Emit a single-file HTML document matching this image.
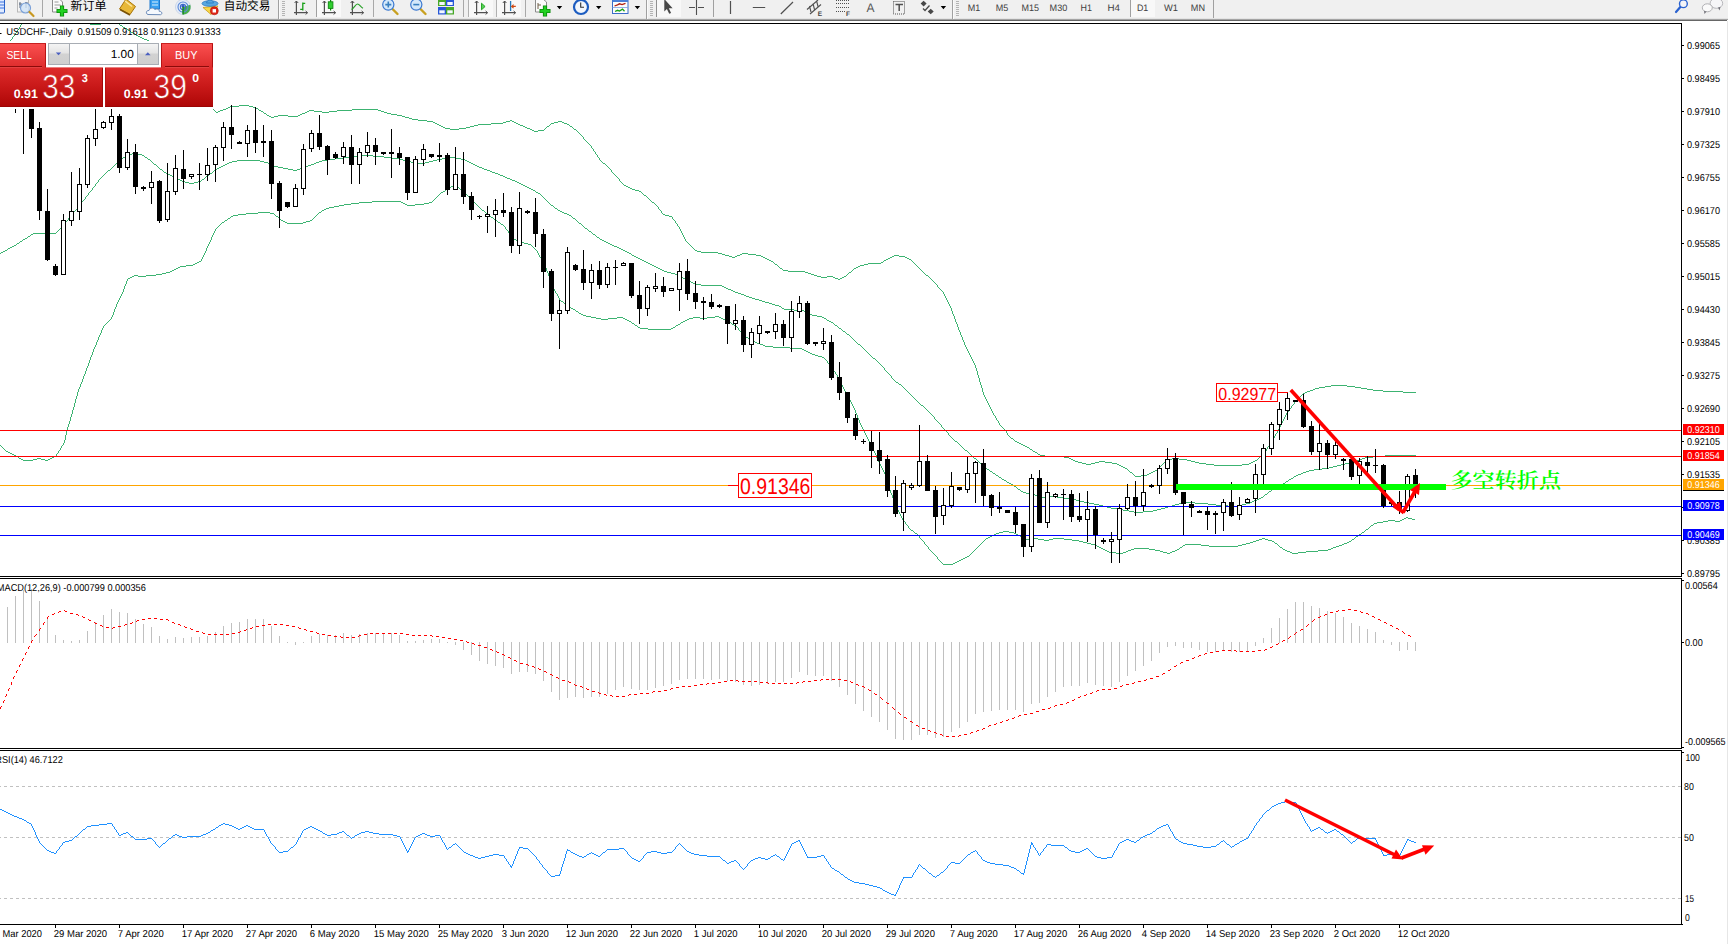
<!DOCTYPE html><html><head><meta charset="utf-8"><title>USDCHF Daily</title>
<style>html,body{margin:0;padding:0;background:#fff;overflow:hidden}svg{display:block}</style></head><body>
<svg width="1728" height="944" viewBox="0 0 1728 944" font-family="'Liberation Sans', sans-serif" text-rendering="geometricPrecision">
<defs>
<clipPath id="cm"><rect x="0" y="24" width="1681" height="552"/></clipPath>
<clipPath id="cd"><rect x="0" y="579" width="1681" height="169"/></clipPath>
<clipPath id="cr"><rect x="0" y="751" width="1681" height="173"/></clipPath>
<clipPath id="cl"><rect x="0" y="924" width="1728" height="20"/></clipPath>
<linearGradient id="gtab" x1="0" y1="0" x2="0" y2="1"><stop offset="0" stop-color="#fb5050"/><stop offset="1" stop-color="#dd2c2c"/></linearGradient>
<linearGradient id="gbox" x1="0" y1="0" x2="0" y2="1"><stop offset="0" stop-color="#de2c2c"/><stop offset="0.5" stop-color="#c81818"/><stop offset="1" stop-color="#ad0606"/></linearGradient>
<linearGradient id="gbtn" x1="0" y1="0" x2="0" y2="1"><stop offset="0" stop-color="#f4f4f4"/><stop offset="0.45" stop-color="#e4e4e4"/><stop offset="0.5" stop-color="#d2d2d2"/><stop offset="1" stop-color="#cfcfcf"/></linearGradient>
<linearGradient id="gboxu" gradientUnits="userSpaceOnUse" x1="0" y1="67.4" x2="0" y2="106.7"><stop offset="0" stop-color="#de2c2c"/><stop offset="0.5" stop-color="#c81818"/><stop offset="1" stop-color="#ad0606"/></linearGradient>
</defs>
<rect x="0" y="0" width="1728" height="944" fill="#fff" />
<g id="toolbar">
<rect x="0" y="0" width="1728" height="19" fill="#f0f0f0"/>
<rect x="0" y="18" width="1728" height="1" fill="#e4e4e4"/><rect x="0" y="19" width="1728" height="1" fill="#a4a4a4"/><rect x="0" y="20" width="1727" height="1" fill="#666666"/>
<g shape-rendering="crispEdges">
<!-- pressed buttons dotted backgrounds -->
<rect x="317" y="0" width="24" height="17" fill="#f9f9f9"/>
<rect x="316" y="0" width="1" height="17" fill="#a0a0a0"/>
<rect x="468" y="0" width="25" height="17" fill="#f8f8f8"/><rect x="468" y="0" width="1" height="17" fill="#b0b0b0"/>
<rect x="496" y="0" width="25" height="17" fill="#f8f8f8"/><rect x="496" y="0" width="1" height="17" fill="#b0b0b0"/>
<rect x="656" y="0" width="25" height="17" fill="#f8f8f8"/><rect x="656" y="0" width="1" height="17" fill="#909090"/>
<rect x="1130" y="0" width="25" height="17" fill="#f8f8f8"/><rect x="1130" y="0" width="1" height="17" fill="#a0a0a0"/>
<!-- separators -->
<rect x="42" y="0" width="1" height="17" fill="#a8a8a8"/>
<rect x="278" y="0" width="1" height="19" fill="#a0a0a0"/><rect x="279" y="0" width="1" height="19" fill="#fafafa"/>
<rect x="373" y="0" width="1" height="17" fill="#a8a8a8"/>
<rect x="463" y="0" width="1" height="17" fill="#a8a8a8"/>
<rect x="525" y="0" width="1" height="17" fill="#a8a8a8"/>
<rect x="646" y="0" width="1" height="19" fill="#a0a0a0"/><rect x="647" y="0" width="1" height="19" fill="#fafafa"/>
<rect x="713" y="0" width="1" height="17" fill="#a0a0a0"/>
<rect x="952" y="0" width="1" height="19" fill="#a0a0a0"/><rect x="953" y="0" width="1" height="19" fill="#fafafa"/>
<rect x="1213" y="0" width="1" height="18" fill="#a0a0a0"/>
<!-- grips -->
<g fill="#b4b4b4">
<rect x="282" y="1" width="3" height="1"/><rect x="282" y="3" width="3" height="1"/><rect x="282" y="5" width="3" height="1"/><rect x="282" y="7" width="3" height="1"/><rect x="282" y="9" width="3" height="1"/><rect x="282" y="11" width="3" height="1"/><rect x="282" y="13" width="3" height="1"/><rect x="282" y="15" width="3" height="1"/>
<rect x="650" y="1" width="3" height="1"/><rect x="650" y="3" width="3" height="1"/><rect x="650" y="5" width="3" height="1"/><rect x="650" y="7" width="3" height="1"/><rect x="650" y="9" width="3" height="1"/><rect x="650" y="11" width="3" height="1"/><rect x="650" y="13" width="3" height="1"/><rect x="650" y="15" width="3" height="1"/>
<rect x="956" y="1" width="3" height="1"/><rect x="956" y="3" width="3" height="1"/><rect x="956" y="5" width="3" height="1"/><rect x="956" y="7" width="3" height="1"/><rect x="956" y="9" width="3" height="1"/><rect x="956" y="11" width="3" height="1"/><rect x="956" y="13" width="3" height="1"/><rect x="956" y="15" width="3" height="1"/>
</g>
</g>
<!-- icon 1: blue doc (clipped) -->
<rect x="-2" y="-2" width="6.5" height="15" rx="1" fill="#dfeaff" stroke="#2a62c8" stroke-width="1"/>
<path d="M0 2h4M0 5h4M0 8h4" stroke="#3a72e0" stroke-width="1"/>
<!-- icon 2: doc + magnifier -->
<rect x="17.5" y="-2" width="11" height="14" fill="#f4f4f4" stroke="#b8b8b8" stroke-width="1"/>
<path d="M20 2v6M26 2v6M19 4h3M25 3h3" stroke="#5a6a80" stroke-width="1"/>
<circle cx="25.5" cy="8" r="5" fill="#cfe4f8" fill-opacity="0.8" stroke="#7aa0d8" stroke-width="1.2"/>
<path d="M29.5 12l4 4" stroke="#c89820" stroke-width="2.2" stroke-linecap="round"/>
<!-- icon: new order doc + plus -->
<path d="M52.5 -1h7l3 3v10h-10z" fill="#fbfbfb" stroke="#8a8a8a" stroke-width="1"/>
<path d="M54.5 2h4M54.5 5h6M54.5 8h3" stroke="#9a9a9a" stroke-width="1"/>
<path d="M62 5.5v11M56.5 11h11" stroke="#0a8c0a" stroke-width="4.2"/>
<path d="M62 6.3v9.4M57.3 11h9.4" stroke="#22d022" stroke-width="2.4"/>
<text x="70.6" y="10.2" font-size="12" fill="#000" textLength="36" lengthAdjust="spacingAndGlyphs" font-family="'Liberation Sans','Noto Sans CJK SC',sans-serif">新订单</text>
<!-- gold tag -->
<path d="M126 -1l9.5 7.5l-5.5 8l-10.5-5.5z" fill="#e8b838" stroke="#a87408" stroke-width="1"/>
<path d="M120 9.5l10 5.5" stroke="#7a5206" stroke-width="1.5"/>
<path d="M125 1l7 5.5" stroke="#fbe6a0" stroke-width="1.5"/>
<!-- cloud/server -->
<rect x="150" y="-2" width="9.5" height="11" fill="#3aa0f0" stroke="#1c78d0" stroke-width="1"/>
<path d="M152 2h6M152 5h6" stroke="#d8efff" stroke-width="1"/>
<path d="M148 14.5c-2.5-0.5-2-4.5 1-4c0.5-2.5 4.5-3.5 6-0.8c1.5-1.5 4.5-0.5 4.2 1.6c3 -0.2 3.5 3 1.3 3.4z" fill="#f4f8fd" stroke="#6a8ab8" stroke-width="1"/>
<!-- signal -->
<circle cx="183" cy="7" r="7.6" fill="#e4ecf8" stroke="#c4d0e4" stroke-width="0.8"/>
<path d="M183 7v7.6a7.6 7.6 0 0 0 7.3-9.8z" fill="#48b048"/>
<circle cx="183" cy="7" r="5" fill="none" stroke="#5a88d8" stroke-width="1.1"/>
<circle cx="183" cy="7" r="2.6" fill="none" stroke="#3a68c8" stroke-width="1.1"/>
<circle cx="183" cy="6.2" r="1.3" fill="#2a50c0"/>
<path d="M183 7v7.5" stroke="#108810" stroke-width="1.4"/>
<!-- expert advisor -->
<path d="M203 7.5l8 7l7-8.5z" fill="#f8d848" stroke="#c89a18" stroke-width="0.8"/>
<ellipse cx="210" cy="3.5" rx="8" ry="2.8" fill="#58a8e0" stroke="#2a78c0" stroke-width="0.8"/>
<path d="M206.5 3c0.5-4 6.5-4 7 0z" fill="#58a8e0" stroke="#2a78c0" stroke-width="0.8"/>
<circle cx="214.3" cy="10.8" r="4" fill="#e02818" stroke="#b01008" stroke-width="0.6"/>
<rect x="212.6" y="9.1" width="3.4" height="3.4" fill="#fff"/>
<text x="223.8" y="10.2" font-size="12" fill="#000" textLength="46.5" lengthAdjust="spacingAndGlyphs" font-family="'Liberation Sans','Noto Sans CJK SC',sans-serif">自动交易</text>
<!-- chart type icons -->
<g stroke="#505050" stroke-width="1.2" fill="none">
<path d="M296.4 1v14M294 12.7h13.5"/><path d="M294.6 3l1.8-2l1.8 2M305.6 10.9l2 1.8l-2 1.8" stroke-width="1"/>
<path d="M324.4 1v14M322 12.7h13.5"/><path d="M322.6 3l1.8-2l1.8 2M333.6 10.9l2 1.8l-2 1.8" stroke-width="1"/>
<path d="M352.4 1v14M350 12.7h13.5"/><path d="M350.6 3l1.8-2l1.8 2M361.6 10.9l2 1.8l-2 1.8" stroke-width="1"/>
</g>
<path d="M302.8 2.5v8M302.8 3.3h2.4M300.2 9.3h2.6" stroke="#18a018" stroke-width="1.3" fill="none"/>
<path d="M330.6 0v10.5" stroke="#108810" stroke-width="1.2"/>
<rect x="328.3" y="1.8" width="4.6" height="6.6" fill="#30d030" stroke="#108810" stroke-width="0.9"/>
<path d="M351.5 9.5c3-2 4-5.5 6-5.5s3 3 5.5 4.200" stroke="#28a028" stroke-width="1.2" fill="none"/>
<!-- zoom in/out -->
<path d="M392.5 9l5 5" stroke="#c8a020" stroke-width="2.4" stroke-linecap="round"/>
<circle cx="388.3" cy="4.6" r="5.6" fill="#d4e8fa" stroke="#3a78d0" stroke-width="1.2"/>
<path d="M385.3 4.6h6M388.3 1.6v6" stroke="#3a80c0" stroke-width="1.6"/>
<path d="M420.5 9l5 5" stroke="#c8a020" stroke-width="2.4" stroke-linecap="round"/>
<circle cx="416.3" cy="4.6" r="5.6" fill="#d4e8fa" stroke="#3a78d0" stroke-width="1.2"/>
<path d="M413.3 4.6h6" stroke="#3a80c0" stroke-width="1.6"/>
<!-- tile icon -->
<rect x="438" y="-1" width="8" height="7" fill="#48a828"/><rect x="446" y="-1" width="8" height="7" fill="#2858d8"/>
<rect x="438" y="7" width="8" height="7.5" fill="#2858d8"/><rect x="446" y="7" width="8" height="7.5" fill="#48a828"/>
<rect x="439.3" y="2" width="5.4" height="3" fill="#f4f8ff"/><rect x="447.3" y="2" width="5.4" height="3" fill="#f4f8ff"/>
<rect x="439.3" y="10.3" width="5.4" height="3" fill="#f4f8ff"/><rect x="447.3" y="10.3" width="5.4" height="3" fill="#f4f8ff"/>
<!-- autoscroll / shift -->
<g stroke="#505050" stroke-width="1.2" fill="none">
<path d="M476.6 1v14M474 12.7h13.5"/><path d="M474.8 3l1.8-2l1.8 2M485.6 10.9l2 1.8l-2 1.8" stroke-width="1"/>
<path d="M504.6 1v14M502 12.7h13.5"/><path d="M502.8 3l1.8-2l1.8 2M513.6 10.9l2 1.8l-2 1.8" stroke-width="1"/>
</g>
<path d="M481.5 3.2v6.6l3.6-3.3z" fill="#58d058" stroke="#18a018" stroke-width="0.9"/>
<path d="M510.6 1v10" stroke="#2878b8" stroke-width="1.3"/>
<path d="M515.8 6.4h-4M513.6 4.6l-2 1.8l2 1.8" stroke="#d04810" stroke-width="1.1" fill="none"/>
<!-- doc + plus 2 -->
<path d="M535.5 -1h7.5l3.5 3v10h-11z" fill="#fbfbfb" stroke="#8a8a8a" stroke-width="1"/>
<path d="M538 3v6M538 5h3" stroke="#706048" stroke-width="1"/>
<path d="M545 5.5v11M539.5 11h11" stroke="#0a8c0a" stroke-width="4.2"/>
<path d="M545 6.3v9.4M540.3 11h9.4" stroke="#22d022" stroke-width="2.4"/>
<path d="M556.8 6h5.4l-2.7 3.2zM596 6h5.4l-2.7 3.200zM634.700 6h5.4l-2.700 3.200zM940.700 6h5.400l-2.700 3.200z" fill="#000"/>
<!-- clock -->
<circle cx="581" cy="7" r="7" fill="#f2f6fb" stroke="#1c5cc0" stroke-width="2.200"/>
<path d="M580.700 2.500v4.800h3.300" stroke="#303030" stroke-width="1.100" fill="none"/>
<!-- templates -->
<rect x="612.500" y="-1" width="15.500" height="14.500" fill="#fdfdfd" stroke="#3a6cc8" stroke-width="1"/>
<rect x="612.500" y="-1" width="15.500" height="3" fill="#4a80d8"/>
<path d="M612.500 7.500h15.500" stroke="#7aa0e0" stroke-width="0.800"/>
<path d="M614.500 6l3-1.200l2-1l2.500 0.800l3.500-1.200" stroke="#b02010" stroke-width="1.300" fill="none"/>
<path d="M615 11.500l2.500-1.200l2 0.800l3-2l2 2.200" stroke="#18a018" stroke-width="1.300" fill="none"/>
<!-- cursor -->
<path d="M664.300 -1v12.500l2.600-2.400l2.300 4.700l1.900-0.900l-2.300-4.600h3.800z" fill="#484848"/>
<!-- crosshair -->
<path d="M696.500 0v15M689 7.500h6M698 7.500h6" stroke="#505050" stroke-width="1.100"/>
<!-- line tools -->
<path d="M730.500 1v13M752.800 7.500h12.400M780.800 14l12.200-12" stroke="#505050" stroke-width="1.200"/>
<!-- channel -->
<path d="M807 9.500l11-9.500M810 14l11-9.500M809.500 6l1.500 6M813 3.500l1.500 6M816.500 0.500l1.500 6" stroke="#505050" stroke-width="1.100" fill="none"/>
<text x="817.800" y="15.800" font-size="6.500" font-weight="bold" fill="#404040">E</text>
<!-- fibo -->
<path d="M836 0.500h13M836 3.500h13M836 7.500h13M836 11.500h9" stroke="#505050" stroke-width="1" stroke-dasharray="1 1"/>
<text x="846" y="15.800" font-size="6.500" font-weight="bold" fill="#404040">F</text>
<text x="866.500" y="12" font-size="12.500" fill="#585858" textLength="8" lengthAdjust="spacingAndGlyphs">A</text>
<rect x="893.500" y="1.500" width="11" height="12.500" fill="none" stroke="#505050" stroke-width="1" stroke-dasharray="1 1"/>
<path d="M895.500 4.500h7.500M899.200 4.500v6.500" stroke="#505050" stroke-width="1.500"/>
<!-- arrows icon -->
<path d="M923.600 0.800l3 2.800l-3 2.800l-3-2.800zM930.700 8.700l3 2.800l-3 2.800l-3-2.800z" fill="#484848"/>
<path d="M923 8.500l2 2l4.500-5" stroke="#484848" stroke-width="1.300" fill="none"/>
<!-- timeframes -->
<g font-size="9.400" fill="#404040">
<text x="967.700" y="10.800" textLength="12.500" lengthAdjust="spacingAndGlyphs">M1</text>
<text x="995.700" y="10.800" textLength="12.500" lengthAdjust="spacingAndGlyphs">M5</text>
<text x="1021.500" y="10.800" textLength="17.500" lengthAdjust="spacingAndGlyphs">M15</text>
<text x="1049.600" y="10.800" textLength="17.700" lengthAdjust="spacingAndGlyphs">M30</text>
<text x="1080.600" y="10.800" textLength="11.400" lengthAdjust="spacingAndGlyphs">H1</text>
<text x="1107.500" y="10.800" textLength="12.500" lengthAdjust="spacingAndGlyphs">H4</text>
<text x="1136.900" y="10.800" textLength="11.400" lengthAdjust="spacingAndGlyphs">D1</text>
<text x="1164" y="10.800" textLength="14" lengthAdjust="spacingAndGlyphs">W1</text>
<text x="1190.800" y="10.800" textLength="14.200" lengthAdjust="spacingAndGlyphs">MN</text>
</g>
<!-- search + chat -->
<path d="M1680.300 7l-4.300 5" stroke="#2a62d0" stroke-width="2.200" stroke-linecap="round"/>
<circle cx="1683.400" cy="3.700" r="3.900" fill="#f4f4f8" stroke="#2a62d0" stroke-width="1.400"/>
<ellipse cx="1716.400" cy="3.300" rx="6.300" ry="5" fill="#f6f6f8" stroke="#b0b0b4" stroke-width="0.900"/>
<path d="M1718 7.500l1.500 3l1-3.500z" fill="#707078"/>
<ellipse cx="1707.300" cy="7.800" rx="5" ry="4" fill="#fafafa" stroke="#a8a8ac" stroke-width="0.900"/>
<path d="M1704 11l0.500 3l2-2.500z" fill="#707078"/>
<path d="M1228 19v0" />
</g>

<g shape-rendering="crispEdges">
<rect x="0" y="23" width="1682" height="1" fill="#000" />
<rect x="1681" y="23" width="1" height="554" fill="#000" />
<rect x="0" y="576" width="1682" height="1" fill="#000" />
<rect x="0" y="578" width="1682" height="1" fill="#000" />
<rect x="1681" y="578" width="1" height="171" fill="#000" />
<rect x="0" y="748" width="1682" height="1" fill="#000" />
<rect x="0" y="750" width="1682" height="1" fill="#000" />
<rect x="1681" y="750" width="1" height="175" fill="#000" />
<rect x="0" y="924" width="1683" height="1" fill="#000" />
<rect x="1727" y="21" width="1" height="923" fill="#e6e6e6" />
</g>
<g clip-path="url(#cm)">
<path d="M21 24.5h1M20 25.5h1M20 26.5h1M19 27.5h1M19 28.5h1M18 29.5h1M17 30.5h1M17 31.5h1M16 32.5h1M15 33.5h1M15 34.5h1M14 35.5h1M13 36.5h1M12 37.5h1M12 38.5h1M11 39.5h1M10 40.5h1M10 41.5h1M9 42.5h1M9 43.5h1M8 44.5h1M8 45.5h1M7 46.5h1M7 47.5h1M6 48.5h1M6 49.5h1M5 50.5h1" stroke="#3cb371" stroke-width="1" fill="none" shape-rendering="crispEdges"/>
<path d="M90 24.5h11" stroke="#3cb371" stroke-width="1" fill="none" shape-rendering="crispEdges"/>
<path d="M119 24.5h1M120 25.5h2M122 26.5h1M123 27.5h2M125 28.5h2M127 29.5h1M128 30.5h2M130 31.5h1M131 32.5h2M133 33.5h2M135 34.5h1M136 35.5h2M138 36.5h2M140 37.5h2M142 38.5h2M144 39.5h3M147 40.5h2M149 41.5h1M150 42.5h1M151 43.5h1M152 44.5h1M153 45.5h1M154 46.5h1M155 47.5h1M156 48.5h1M157 49.5h1M158 50.5h1M159 51.5h1M160 52.5h1M161 53.5h1M162 54.5h1M163 55.5h1M163 56.5h1M164 57.5h1M165 58.5h1M166 59.5h1M167 60.5h1M168 61.5h1M169 62.5h1M170 63.5h1M170 64.5h1M171 65.5h1M172 66.5h1M173 67.5h1M174 68.5h1M175 69.5h1M176 70.5h1M177 71.5h1M177 72.5h1M178 73.5h1M179 74.5h1M180 75.5h1M181 76.5h1M182 77.5h1M183 78.5h1M184 79.5h1M185 80.5h1M185 81.5h1M186 82.5h1M187 83.5h1M188 84.5h1M189 85.5h1M190 86.5h1M191 87.5h1M192 88.5h1M193 89.5h1M194 90.5h1M195 91.5h1M195 92.5h1M196 93.5h1M197 94.5h1M198 95.5h1M199 96.5h1M200 97.5h1M201 98.5h1M202 99.5h1M203 100.5h1M204 101.5h1M205 102.5h1M206 103.5h2M208 104.5h1M209 105.5h1M239 105.5h10M210 106.5h1M230 106.5h9M249 106.5h4M211 107.5h1M228 107.5h2M253 107.5h3M212 108.5h1M226 108.5h2M256 108.5h2M213 109.5h1M223 109.5h3M258 109.5h1M352 109.5h26M214 110.5h1M220 110.5h3M259 110.5h2M309 110.5h5M337 110.5h15M378 110.5h3M215 111.5h1M218 111.5h2M261 111.5h2M307 111.5h2M314 111.5h8M329 111.5h8M381 111.5h3M216 112.5h2M263 112.5h1M305 112.5h2M322 112.5h7M384 112.5h3M264 113.5h2M302 113.5h3M387 113.5h4M266 114.5h1M300 114.5h2M391 114.5h6M267 115.5h2M278 115.5h10M298 115.5h2M397 115.5h5M269 116.5h2M274 116.5h4M288 116.5h10M402 116.5h3M271 117.5h3M405 117.5h4M409 118.5h3M412 119.5h6M418 120.5h9M510 120.5h2M427 121.5h6M506 121.5h4M512 121.5h2M558 121.5h4M433 122.5h2M503 122.5h3M514 122.5h2M554 122.5h4M562 122.5h2M435 123.5h2M491 123.5h12M516 123.5h2M551 123.5h3M564 123.5h3M437 124.5h2M478 124.5h13M518 124.5h2M550 124.5h1M567 124.5h2M439 125.5h2M474 125.5h4M520 125.5h3M549 125.5h1M569 125.5h1M441 126.5h2M470 126.5h4M523 126.5h2M547 126.5h2M570 126.5h2M443 127.5h2M466 127.5h4M525 127.5h2M546 127.5h1M572 127.5h1M445 128.5h5M459 128.5h7M527 128.5h3M545 128.5h1M573 128.5h1M450 129.5h9M530 129.5h2M544 129.5h1M574 129.5h2M532 130.5h2M538 130.5h6M576 130.5h1M534 131.5h4M577 131.5h1M578 132.5h1M579 133.5h1M580 134.5h1M581 135.5h1M582 136.5h1M583 137.5h1M583 138.5h1M584 139.5h1M585 140.5h1M586 141.5h1M587 142.5h1M588 143.5h1M589 144.5h1M590 145.5h1M591 146.5h1M591 147.5h1M592 148.5h1M593 149.5h1M593 150.5h1M594 151.5h1M595 152.5h1M595 153.5h1M596 154.5h1M597 155.5h1M597 156.5h1M598 157.5h1M599 158.5h1M599 159.5h1M600 160.5h1M601 161.5h1M602 162.5h1M603 163.5h2M605 164.5h1M606 165.5h1M607 166.5h1M608 167.5h1M609 168.5h1M610 169.5h1M611 170.5h1M611 171.5h1M612 172.5h1M613 173.5h1M614 174.5h1M615 175.5h1M616 176.5h1M617 177.5h1M618 178.5h1M619 179.5h1M619 180.5h1M620 181.5h1M621 182.5h1M622 183.5h1M623 184.5h1M624 185.5h2M626 186.5h2M628 187.5h2M630 188.5h2M632 189.5h3M635 190.5h4M639 191.5h2M641 192.5h1M642 193.5h1M643 194.5h1M644 195.5h2M646 196.5h1M647 197.5h1M648 198.5h1M649 199.5h1M650 200.5h1M651 201.5h1M652 202.5h2M654 203.5h1M655 204.5h1M656 205.5h1M657 206.5h1M658 207.5h1M658 208.5h1M659 209.5h1M660 210.5h1M661 211.5h1M661 212.5h1M662 213.5h1M663 214.5h2M665 215.5h4M669 216.5h3M672 217.5h1M672 218.5h1M673 219.5h1M674 220.5h1M675 221.5h1M675 222.5h1M676 223.5h1M677 224.5h1M677 225.5h1M678 226.5h1M679 227.5h1M679 228.5h1M680 229.5h1M680 230.5h1M681 231.5h1M681 232.5h1M682 233.5h1M682 234.5h1M683 235.5h1M683 236.5h1M684 237.5h1M684 238.5h1M685 239.5h1M685 240.5h1M686 241.5h1M687 242.5h1M688 243.5h1M689 244.5h1M690 245.5h1M691 246.5h1M692 247.5h1M693 248.5h1M694 249.5h1M695 250.5h2M697 251.5h4M701 252.5h17M718 253.5h4M742 253.5h6M722 254.5h3M740 254.5h2M748 254.5h8M725 255.5h4M737 255.5h3M756 255.5h5M894 255.5h5M729 256.5h3M735 256.5h2M761 256.5h2M892 256.5h2M899 256.5h6M732 257.5h3M763 257.5h2M890 257.5h2M905 257.5h2M765 258.5h2M888 258.5h2M907 258.5h2M767 259.5h2M886 259.5h2M909 259.5h2M769 260.5h2M884 260.5h2M911 260.5h1M771 261.5h2M883 261.5h1M912 261.5h1M773 262.5h1M881 262.5h2M913 262.5h1M774 263.5h1M868 263.5h13M914 263.5h1M775 264.5h2M864 264.5h4M915 264.5h1M777 265.5h1M860 265.5h4M916 265.5h1M778 266.5h1M858 266.5h2M917 266.5h1M779 267.5h1M856 267.5h2M918 267.5h1M780 268.5h2M854 268.5h2M919 268.5h1M782 269.5h1M853 269.5h1M920 269.5h1M783 270.5h5M852 270.5h1M921 270.5h1M788 271.5h17M851 271.5h1M922 271.5h1M805 272.5h3M849 272.5h2M923 272.5h1M808 273.5h3M848 273.5h1M924 273.5h1M811 274.5h3M847 274.5h1M925 274.5h1M814 275.5h3M846 275.5h1M926 275.5h2M817 276.5h4M827 276.5h6M844 276.5h2M928 276.5h1M821 277.5h6M833 277.5h2M842 277.5h2M929 277.5h1M835 278.5h3M840 278.5h2M930 278.5h1M838 279.5h2M931 279.5h1M932 280.5h1M933 281.5h1M934 282.5h1M935 283.5h1M936 284.5h1M937 285.5h1M937 286.5h1M938 287.5h1M939 288.5h1M940 289.5h1M941 290.5h1M942 291.5h1M943 292.5h1M943 293.5h1M944 294.5h1M944 295.5h1M945 296.5h1M945 297.5h1M946 298.5h1M946 299.5h1M947 300.5h1M947 301.5h1M948 302.5h1M948 303.5h1M949 304.5h1M949 305.5h1M950 306.5h1M950 307.5h1M951 308.5h1M951 309.5h1M951 310.5h1M952 311.5h1M952 312.5h1M952 313.5h1M953 314.5h1M953 315.5h1M954 316.5h1M954 317.5h1M954 318.5h1M955 319.5h1M955 320.5h1M955 321.5h1M956 322.5h1M956 323.5h1M957 324.5h1M957 325.5h1M957 326.5h1M958 327.5h1M958 328.5h1M958 329.5h1M959 330.5h1M959 331.5h1M960 332.5h1M960 333.5h1M960 334.5h1M961 335.5h1M961 336.5h1M962 337.5h1M962 338.5h1M962 339.5h1M963 340.5h1M963 341.5h1M964 342.5h1M964 343.5h1M964 344.5h1M965 345.5h1M965 346.5h1M966 347.5h1M966 348.5h1M967 349.5h1M967 350.5h1M968 351.5h1M968 352.5h1M969 353.5h1M969 354.5h1M970 355.5h1M970 356.5h1M971 357.5h1M971 358.5h1M972 359.5h1M972 360.5h1M973 361.5h1M973 362.5h1M974 363.5h1M974 364.5h1M975 365.5h1M975 366.5h1M975 367.5h1M976 368.5h1M976 369.5h1M976 370.5h1M977 371.5h1M977 372.5h1M977 373.5h1M977 374.5h1M978 375.5h1M978 376.5h1M978 377.5h1M979 378.5h1M979 379.5h1M979 380.5h1M979 381.5h1M980 382.5h1M980 383.5h1M980 384.5h1M981 385.5h1M1331 385.5h16M981 386.5h1M1325 386.5h6M1347 386.5h8M981 387.5h1M1319 387.5h6M1355 387.5h6M982 388.5h1M1315 388.5h4M1361 388.5h6M982 389.5h1M1313 389.5h2M1367 389.5h6M982 390.5h1M1310 390.5h3M1373 390.5h10M982 391.5h1M1307 391.5h3M1383 391.5h20M983 392.5h1M1305 392.5h2M1403 392.5h13M983 393.5h1M1303 393.5h2M983 394.5h1M1302 394.5h1M984 395.5h1M1301 395.5h1M984 396.5h1M1300 396.5h1M985 397.5h1M1299 397.5h1M985 398.5h1M1298 398.5h1M986 399.5h1M1297 399.5h1M986 400.5h1M1296 400.5h1M987 401.5h1M1295 401.5h1M987 402.5h1M1294 402.5h1M988 403.5h1M1294 403.5h1M988 404.5h1M1293 404.5h1M989 405.5h1M1292 405.5h1M989 406.5h1M1291 406.5h1M990 407.5h1M1291 407.5h1M990 408.5h1M1290 408.5h1M991 409.5h1M1289 409.5h1M991 410.5h1M1288 410.5h1M992 411.5h1M1288 411.5h1M992 412.5h1M1287 412.5h1M993 413.5h1M1286 413.5h1M993 414.5h1M1286 414.5h1M994 415.5h1M1285 415.5h1M995 416.5h1M1285 416.5h1M995 417.5h1M1284 417.5h1M996 418.5h1M1284 418.5h1M996 419.5h1M1283 419.5h1M997 420.5h1M1283 420.5h1M998 421.5h1M1282 421.5h1M998 422.5h1M1282 422.5h1M999 423.5h1M1281 423.5h1M999 424.5h1M1281 424.5h1M1000 425.5h1M1280 425.5h1M1001 426.5h1M1280 426.5h1M1002 427.5h1M1279 427.5h1M1003 428.5h1M1279 428.5h1M1004 429.5h1M1278 429.5h1M1005 430.5h1M1278 430.5h1M1006 431.5h1M1277 431.5h1M1006 432.5h1M1277 432.5h1M1007 433.5h1M1276 433.5h1M1007 434.5h1M1275 434.5h1M1008 435.5h1M1275 435.5h1M1009 436.5h1M1274 436.5h1M1010 437.5h1M1274 437.5h1M1011 438.5h2M1273 438.5h1M1013 439.5h1M1272 439.5h1M1014 440.5h1M1272 440.5h1M1015 441.5h2M1271 441.5h1M1017 442.5h2M1271 442.5h1M1019 443.5h2M1270 443.5h1M1021 444.5h2M1269 444.5h1M1023 445.5h2M1269 445.5h1M1025 446.5h2M1268 446.5h1M1027 447.5h2M1267 447.5h1M1029 448.5h1M1267 448.5h1M1030 449.5h2M1266 449.5h1M1032 450.5h1M1266 450.5h1M1033 451.5h2M1265 451.5h1M1035 452.5h2M1264 452.5h1M1037 453.5h1M1263 453.5h1M1038 454.5h2M1262 454.5h1M1040 455.5h5M1261 455.5h1M1045 456.5h19M1260 456.5h1M1064 457.5h5M1259 457.5h1M1069 458.5h2M1172 458.5h7M1258 458.5h1M1071 459.5h2M1169 459.5h3M1179 459.5h8M1257 459.5h1M1073 460.5h2M1167 460.5h2M1187 460.5h4M1255 460.5h2M1075 461.5h3M1099 461.5h6M1165 461.5h2M1191 461.5h4M1253 461.5h2M1078 462.5h4M1095 462.5h4M1105 462.5h7M1164 462.5h1M1195 462.5h4M1251 462.5h2M1082 463.5h4M1091 463.5h4M1112 463.5h5M1163 463.5h1M1199 463.5h7M1249 463.5h2M1086 464.5h5M1117 464.5h2M1162 464.5h1M1206 464.5h8M1242 464.5h7M1119 465.5h2M1161 465.5h1M1214 465.5h28M1121 466.5h2M1160 466.5h1M1123 467.5h2M1159 467.5h1M1125 468.5h2M1158 468.5h1M1127 469.5h1M1157 469.5h1M1128 470.5h1M1155 470.5h2M1129 471.5h1M1153 471.5h2M1130 472.5h2M1151 472.5h2M1132 473.5h1M1149 473.5h2M1133 474.5h1M1147 474.5h2M1134 475.5h1M1141 475.5h6M1135 476.5h6" stroke="#3cb371" stroke-width="1" fill="none" shape-rendering="crispEdges"/>
<path d="M132 153.5h5M128 154.5h4M137 154.5h5M126 155.5h2M142 155.5h2M361 155.5h12M125 156.5h1M144 156.5h1M351 156.5h10M373 156.5h11M123 157.5h2M145 157.5h2M343 157.5h8M384 157.5h8M450 157.5h6M122 158.5h1M147 158.5h1M335 158.5h8M392 158.5h7M442 158.5h8M456 158.5h5M121 159.5h1M148 159.5h2M327 159.5h8M399 159.5h4M437 159.5h5M461 159.5h4M120 160.5h1M150 160.5h1M237 160.5h23M322 160.5h5M403 160.5h4M433 160.5h4M465 160.5h2M118 161.5h2M151 161.5h1M232 161.5h5M260 161.5h4M319 161.5h3M407 161.5h4M429 161.5h4M467 161.5h2M117 162.5h1M152 162.5h1M229 162.5h3M264 162.5h4M316 162.5h3M411 162.5h7M425 162.5h4M469 162.5h2M116 163.5h1M153 163.5h1M227 163.5h2M268 163.5h2M314 163.5h2M418 163.5h7M471 163.5h2M115 164.5h1M154 164.5h2M225 164.5h2M270 164.5h2M311 164.5h3M473 164.5h2M114 165.5h1M156 165.5h1M223 165.5h2M272 165.5h2M308 165.5h3M475 165.5h2M113 166.5h1M157 166.5h1M221 166.5h2M274 166.5h4M305 166.5h3M477 166.5h2M112 167.5h1M158 167.5h1M219 167.5h2M278 167.5h5M302 167.5h3M479 167.5h3M111 168.5h1M159 168.5h1M217 168.5h2M283 168.5h5M300 168.5h2M482 168.5h2M110 169.5h1M160 169.5h2M216 169.5h1M288 169.5h5M297 169.5h3M484 169.5h3M108 170.5h2M162 170.5h1M214 170.5h2M293 170.5h4M487 170.5h3M107 171.5h1M163 171.5h1M213 171.5h1M490 171.5h2M106 172.5h1M164 172.5h2M212 172.5h1M492 172.5h3M105 173.5h1M166 173.5h2M210 173.5h2M495 173.5h3M104 174.5h1M168 174.5h2M209 174.5h1M498 174.5h2M103 175.5h1M170 175.5h2M208 175.5h1M500 175.5h3M102 176.5h1M172 176.5h2M206 176.5h2M503 176.5h2M101 177.5h1M174 177.5h2M205 177.5h1M505 177.5h2M100 178.5h1M176 178.5h2M204 178.5h1M507 178.5h3M99 179.5h1M178 179.5h2M202 179.5h2M510 179.5h2M98 180.5h1M180 180.5h2M201 180.5h1M512 180.5h3M98 181.5h1M182 181.5h3M198 181.5h3M515 181.5h2M97 182.5h1M185 182.5h4M194 182.5h4M517 182.5h2M96 183.5h1M189 183.5h5M519 183.5h2M95 184.5h1M521 184.5h2M95 185.5h1M523 185.5h2M94 186.5h1M525 186.5h2M93 187.5h1M527 187.5h2M92 188.5h1M529 188.5h2M92 189.5h1M531 189.5h2M91 190.5h1M533 190.5h2M90 191.5h1M535 191.5h1M89 192.5h1M536 192.5h2M88 193.5h1M538 193.5h2M88 194.5h1M540 194.5h1M87 195.5h1M541 195.5h1M86 196.5h1M542 196.5h1M85 197.5h1M543 197.5h1M85 198.5h1M544 198.5h1M84 199.5h1M545 199.5h1M83 200.5h1M546 200.5h1M82 201.5h1M547 201.5h1M81 202.5h1M548 202.5h1M81 203.5h1M549 203.5h1M80 204.5h1M550 204.5h1M79 205.5h1M551 205.5h2M78 206.5h1M553 206.5h1M77 207.5h1M554 207.5h1M77 208.5h1M555 208.5h2M76 209.5h1M557 209.5h1M75 210.5h1M558 210.5h2M74 211.5h1M560 211.5h2M73 212.5h1M562 212.5h2M72 213.5h1M564 213.5h3M72 214.5h1M567 214.5h2M71 215.5h1M569 215.5h2M70 216.5h1M571 216.5h1M69 217.5h1M572 217.5h1M68 218.5h1M573 218.5h2M68 219.5h1M575 219.5h1M67 220.5h1M576 220.5h1M66 221.5h1M577 221.5h1M65 222.5h1M578 222.5h1M64 223.5h1M579 223.5h2M63 224.5h1M581 224.5h1M62 225.5h1M582 225.5h1M61 226.5h1M583 226.5h1M61 227.5h1M584 227.5h1M60 228.5h1M585 228.5h2M59 229.5h1M587 229.5h1M58 230.5h1M588 230.5h1M57 231.5h1M589 231.5h2M56 232.5h1M591 232.5h1M33 233.5h23M592 233.5h1M31 234.5h2M593 234.5h2M30 235.5h1M595 235.5h1M28 236.5h2M596 236.5h1M27 237.5h1M597 237.5h2M25 238.5h2M599 238.5h1M23 239.5h2M600 239.5h2M22 240.5h1M602 240.5h2M20 241.5h2M604 241.5h2M19 242.5h1M606 242.5h2M17 243.5h2M608 243.5h2M16 244.5h1M610 244.5h2M14 245.5h2M612 245.5h2M12 246.5h2M614 246.5h3M10 247.5h2M617 247.5h2M8 248.5h2M619 248.5h2M7 249.5h1M621 249.5h2M5 250.5h2M623 250.5h2M3 251.5h2M625 251.5h2M1 252.5h2M627 252.5h2M0 253.5h1M629 253.5h2M631 254.5h1M632 255.5h2M634 256.5h2M636 257.5h2M638 258.5h2M640 259.5h2M642 260.5h2M644 261.5h2M646 262.5h2M648 263.5h2M650 264.5h2M652 265.5h2M654 266.5h2M656 267.5h2M658 268.5h2M660 269.5h2M662 270.5h2M664 271.5h3M667 272.5h4M671 273.5h4M675 274.5h2M677 275.5h2M679 276.5h2M681 277.5h2M683 278.5h2M685 279.5h2M687 280.5h2M689 281.5h2M691 282.5h2M693 283.5h2M695 284.5h6M701 285.5h21M722 286.5h2M724 287.5h2M726 288.5h2M728 289.5h3M731 290.5h2M733 291.5h2M735 292.5h3M738 293.5h3M741 294.5h3M744 295.5h2M746 296.5h3M749 297.5h3M752 298.5h3M755 299.5h4M759 300.5h3M762 301.5h3M765 302.5h4M769 303.5h3M772 304.5h3M775 305.5h4M779 306.5h2M781 307.5h1M782 308.5h2M784 309.5h10M794 310.5h10M804 311.5h2M806 312.5h2M808 313.5h2M810 314.5h2M812 315.5h5M817 316.5h5M822 317.5h2M824 318.5h2M826 319.5h1M827 320.5h2M829 321.5h2M831 322.5h2M833 323.5h1M834 324.5h1M835 325.5h2M837 326.5h1M838 327.5h1M839 328.5h2M841 329.5h1M842 330.5h1M843 331.5h2M845 332.5h1M846 333.5h1M847 334.5h2M849 335.5h1M850 336.5h1M851 337.5h1M852 338.5h1M853 339.5h1M854 340.5h1M855 341.5h1M856 342.5h1M857 343.5h1M858 344.5h2M860 345.5h1M861 346.5h1M862 347.5h1M863 348.5h1M864 349.5h1M865 350.5h1M866 351.5h1M867 352.5h1M868 353.5h1M869 354.5h1M870 355.5h1M871 356.5h1M872 357.5h1M873 358.5h2M875 359.5h1M876 360.5h1M877 361.5h1M878 362.5h1M879 363.5h1M880 364.5h1M881 365.5h1M882 366.5h1M883 367.5h1M884 368.5h1M884 369.5h1M885 370.5h1M886 371.5h1M887 372.5h1M888 373.5h1M889 374.5h1M890 375.5h1M891 376.5h1M891 377.5h1M892 378.5h1M893 379.5h1M894 380.5h1M895 381.5h1M896 382.5h2M898 383.5h1M899 384.5h2M901 385.5h1M902 386.5h1M903 387.5h1M904 388.5h1M905 389.5h1M906 390.5h1M907 391.5h1M908 392.5h1M909 393.5h1M910 394.5h1M911 395.5h1M912 396.5h1M913 397.5h1M914 398.5h1M915 399.5h1M916 400.5h1M917 401.5h1M918 402.5h1M919 403.5h1M920 404.5h1M921 405.5h2M923 406.5h1M924 407.5h1M925 408.5h1M926 409.5h1M927 410.5h1M928 411.5h1M929 412.5h1M930 413.5h1M931 414.5h1M932 415.5h1M933 416.5h1M934 417.5h1M934 418.5h1M935 419.5h1M936 420.5h1M937 421.5h1M938 422.5h1M939 423.5h1M940 424.5h1M941 425.5h1M941 426.5h1M942 427.5h1M943 428.5h1M944 429.5h1M945 430.5h1M946 431.5h1M947 432.5h1M948 433.5h1M948 434.5h1M949 435.5h1M950 436.5h1M951 437.5h1M952 438.5h1M953 439.5h1M954 440.5h1M955 441.5h2M957 442.5h1M958 443.5h1M959 444.5h1M960 445.5h1M961 446.5h1M962 447.5h1M963 448.5h1M964 449.5h1M965 450.5h2M967 451.5h1M968 452.5h1M969 453.5h1M970 454.5h1M971 455.5h1M1385 455.5h31M972 456.5h1M1373 456.5h12M973 457.5h1M1365 457.5h8M974 458.5h2M1362 458.5h3M976 459.5h1M1360 459.5h2M977 460.5h1M1357 460.5h3M978 461.5h1M1353 461.5h4M979 462.5h1M1349 462.5h4M980 463.5h1M1345 463.5h4M981 464.5h1M1341 464.5h4M982 465.5h2M1337 465.5h4M984 466.5h1M1333 466.5h4M985 467.5h1M1329 467.5h4M986 468.5h1M1322 468.5h7M987 469.5h2M1314 469.5h8M989 470.5h1M1309 470.5h5M990 471.5h2M1306 471.5h3M992 472.5h1M1303 472.5h3M993 473.5h2M1301 473.5h2M995 474.5h1M1298 474.5h3M996 475.5h2M1296 475.5h2M998 476.5h1M1294 476.5h2M999 477.5h2M1293 477.5h1M1001 478.5h1M1291 478.5h2M1002 479.5h2M1289 479.5h2M1004 480.5h2M1288 480.5h1M1006 481.5h1M1286 481.5h2M1007 482.5h2M1285 482.5h1M1009 483.5h2M1283 483.5h2M1011 484.5h2M1281 484.5h2M1013 485.5h1M1279 485.5h2M1014 486.5h2M1278 486.5h1M1016 487.5h1M1276 487.5h2M1017 488.5h1M1274 488.5h2M1018 489.5h2M1272 489.5h2M1020 490.5h1M1271 490.5h1M1021 491.5h2M1269 491.5h2M1023 492.5h3M1268 492.5h1M1026 493.5h5M1267 493.5h1M1031 494.5h4M1265 494.5h2M1035 495.5h3M1264 495.5h1M1038 496.5h4M1048 496.5h9M1263 496.5h1M1042 497.5h6M1057 497.5h7M1261 497.5h2M1064 498.5h6M1259 498.5h2M1070 499.5h6M1257 499.5h2M1076 500.5h4M1254 500.5h3M1080 501.5h4M1252 501.5h2M1084 502.5h5M1184 502.5h11M1250 502.5h2M1089 503.5h5M1179 503.5h5M1195 503.5h13M1246 503.5h4M1094 504.5h5M1175 504.5h4M1208 504.5h8M1242 504.5h4M1099 505.5h4M1172 505.5h3M1216 505.5h12M1238 505.5h4M1103 506.5h4M1168 506.5h4M1228 506.5h10M1107 507.5h4M1165 507.5h3M1111 508.5h6M1161 508.5h4M1117 509.5h6M1157 509.5h4M1123 510.5h6M1153 510.5h4M1129 511.5h5M1143 511.5h10M1134 512.5h9" stroke="#3cb371" stroke-width="1" fill="none" shape-rendering="crispEdges"/>
<path d="M453 185.5h2M451 186.5h2M455 186.5h2M449 187.5h2M457 187.5h2M448 188.5h1M459 188.5h1M446 189.5h2M460 189.5h1M445 190.5h1M461 190.5h1M443 191.5h2M462 191.5h1M441 192.5h2M463 192.5h2M440 193.5h1M465 193.5h1M439 194.5h1M466 194.5h1M438 195.5h1M467 195.5h1M437 196.5h1M468 196.5h1M436 197.5h1M469 197.5h1M435 198.5h1M470 198.5h1M434 199.5h1M471 199.5h1M433 200.5h1M472 200.5h1M372 201.5h29M432 201.5h1M473 201.5h1M359 202.5h13M401 202.5h2M429 202.5h3M474 202.5h1M351 203.5h8M403 203.5h2M424 203.5h5M475 203.5h1M344 204.5h7M405 204.5h2M415 204.5h9M476 204.5h1M339 205.5h5M407 205.5h8M477 205.5h1M334 206.5h5M478 206.5h1M329 207.5h5M479 207.5h1M326 208.5h3M480 208.5h1M324 209.5h2M481 209.5h1M322 210.5h2M482 210.5h2M321 211.5h1M484 211.5h1M258 212.5h12M319 212.5h2M485 212.5h1M246 213.5h12M270 213.5h4M318 213.5h1M486 213.5h1M238 214.5h8M274 214.5h1M317 214.5h1M487 214.5h2M233 215.5h5M275 215.5h1M316 215.5h1M489 215.5h1M231 216.5h2M276 216.5h2M315 216.5h1M490 216.5h1M230 217.5h1M278 217.5h1M314 217.5h1M491 217.5h2M228 218.5h2M279 218.5h1M313 218.5h1M493 218.5h1M227 219.5h1M280 219.5h1M312 219.5h1M494 219.5h2M225 220.5h2M281 220.5h2M310 220.5h2M496 220.5h1M224 221.5h1M283 221.5h2M306 221.5h4M497 221.5h1M222 222.5h2M285 222.5h2M303 222.5h3M498 222.5h2M221 223.5h1M287 223.5h16M500 223.5h1M220 224.5h1M501 224.5h2M219 225.5h1M503 225.5h1M218 226.5h1M504 226.5h1M217 227.5h1M505 227.5h1M216 228.5h1M505 228.5h1M215 229.5h1M506 229.5h1M215 230.5h1M507 230.5h1M214 231.5h1M508 231.5h1M214 232.5h1M508 232.5h1M213 233.5h1M509 233.5h1M213 234.5h1M510 234.5h1M212 235.5h1M511 235.5h1M212 236.5h1M511 236.5h1M211 237.5h1M512 237.5h1M211 238.5h1M513 238.5h1M211 239.5h1M514 239.5h2M210 240.5h1M516 240.5h2M210 241.5h1M518 241.5h2M209 242.5h1M520 242.5h4M209 243.5h1M524 243.5h4M208 244.5h1M528 244.5h3M208 245.5h1M531 245.5h1M207 246.5h1M532 246.5h1M207 247.5h1M533 247.5h1M206 248.5h1M534 248.5h1M206 249.5h1M535 249.5h1M206 250.5h1M536 250.5h1M205 251.5h1M537 251.5h1M205 252.5h1M537 252.5h1M204 253.5h1M538 253.5h1M204 254.5h1M538 254.5h1M203 255.5h1M539 255.5h1M203 256.5h1M539 256.5h1M202 257.5h1M540 257.5h1M202 258.5h1M541 258.5h1M201 259.5h1M541 259.5h1M201 260.5h1M542 260.5h1M199 261.5h2M542 261.5h1M197 262.5h2M543 262.5h1M195 263.5h2M543 263.5h1M193 264.5h2M544 264.5h1M186 265.5h7M544 265.5h1M180 266.5h6M545 266.5h1M178 267.5h2M545 267.5h1M176 268.5h2M546 268.5h1M174 269.5h2M546 269.5h1M172 270.5h2M546 270.5h1M170 271.5h2M547 271.5h1M166 272.5h4M547 272.5h1M162 273.5h4M548 273.5h1M156 274.5h6M548 274.5h1M134 275.5h4M146 275.5h10M548 275.5h1M132 276.5h2M138 276.5h8M549 276.5h1M130 277.5h2M549 277.5h1M128 278.5h2M549 278.5h1M127 279.5h1M550 279.5h1M127 280.5h1M550 280.5h1M126 281.5h1M550 281.5h1M126 282.5h1M551 282.5h1M126 283.5h1M551 283.5h1M125 284.5h1M552 284.5h1M125 285.5h1M552 285.5h1M124 286.5h1M552 286.5h1M124 287.5h1M553 287.5h1M124 288.5h1M553 288.5h1M123 289.5h1M554 289.5h1M123 290.5h1M554 290.5h1M123 291.5h1M555 291.5h1M122 292.5h1M555 292.5h1M122 293.5h1M556 293.5h1M121 294.5h1M557 294.5h1M121 295.5h1M557 295.5h1M120 296.5h1M558 296.5h1M120 297.5h1M558 297.5h1M119 298.5h1M559 298.5h1M119 299.5h1M559 299.5h1M118 300.5h1M560 300.5h1M118 301.5h1M561 301.5h2M117 302.5h1M563 302.5h1M117 303.5h1M564 303.5h1M116 304.5h1M565 304.5h2M116 305.5h1M567 305.5h1M116 306.5h1M568 306.5h2M115 307.5h1M570 307.5h1M115 308.5h1M571 308.5h2M114 309.5h1M573 309.5h2M114 310.5h1M575 310.5h1M114 311.5h1M576 311.5h2M113 312.5h1M578 312.5h1M113 313.5h1M579 313.5h2M113 314.5h1M581 314.5h2M112 315.5h1M583 315.5h3M112 316.5h1M586 316.5h5M715 316.5h4M111 317.5h1M591 317.5h5M617 317.5h6M693 317.5h7M707 317.5h8M719 317.5h2M111 318.5h1M596 318.5h5M608 318.5h9M623 318.5h2M689 318.5h4M700 318.5h7M721 318.5h2M110 319.5h1M601 319.5h7M625 319.5h2M687 319.5h2M723 319.5h2M109 320.5h1M627 320.5h2M685 320.5h2M725 320.5h2M108 321.5h1M629 321.5h2M683 321.5h2M727 321.5h2M107 322.5h1M631 322.5h1M681 322.5h2M729 322.5h2M106 323.5h1M632 323.5h2M680 323.5h1M731 323.5h1M105 324.5h1M634 324.5h1M678 324.5h2M732 324.5h2M104 325.5h1M635 325.5h2M676 325.5h2M734 325.5h2M103 326.5h1M637 326.5h1M675 326.5h1M736 326.5h1M103 327.5h1M638 327.5h2M673 327.5h2M737 327.5h1M102 328.5h1M640 328.5h8M671 328.5h2M738 328.5h1M102 329.5h1M648 329.5h23M738 329.5h1M101 330.5h1M739 330.5h1M101 331.5h1M740 331.5h1M101 332.5h1M741 332.5h1M100 333.5h1M741 333.5h1M100 334.5h1M742 334.5h1M99 335.5h1M743 335.5h1M99 336.5h1M744 336.5h2M98 337.5h1M746 337.5h2M98 338.5h1M748 338.5h1M98 339.5h1M749 339.5h2M97 340.5h1M751 340.5h2M97 341.5h1M753 341.5h2M96 342.5h1M755 342.5h2M96 343.5h1M757 343.5h3M96 344.5h1M760 344.5h3M95 345.5h1M763 345.5h2M95 346.5h1M765 346.5h8M94 347.5h1M773 347.5h17M94 348.5h1M790 348.5h12M93 349.5h1M802 349.5h2M93 350.5h1M804 350.5h2M93 351.5h1M806 351.5h2M92 352.5h1M808 352.5h2M92 353.5h1M810 353.5h2M92 354.5h1M812 354.5h3M91 355.5h1M815 355.5h3M91 356.5h1M818 356.5h4M90 357.5h1M822 357.5h2M90 358.5h1M824 358.5h1M90 359.5h1M825 359.5h1M89 360.5h1M826 360.5h1M89 361.5h1M827 361.5h1M89 362.5h1M827 362.5h1M88 363.5h1M828 363.5h1M88 364.5h1M829 364.5h1M88 365.5h1M830 365.5h1M87 366.5h1M831 366.5h1M87 367.5h1M831 367.5h1M86 368.5h1M832 368.5h1M86 369.5h1M833 369.5h1M86 370.5h1M833 370.5h1M85 371.5h1M834 371.5h1M85 372.5h1M835 372.5h1M85 373.5h1M835 373.5h1M84 374.5h1M836 374.5h1M84 375.5h1M837 375.5h1M83 376.5h1M837 376.5h1M83 377.5h1M838 377.5h1M83 378.5h1M838 378.5h1M82 379.5h1M839 379.5h1M82 380.5h1M839 380.5h1M82 381.5h1M840 381.5h1M81 382.5h1M840 382.5h1M81 383.5h1M841 383.5h1M80 384.5h1M841 384.5h1M80 385.5h1M842 385.5h1M80 386.5h1M842 386.5h1M79 387.5h1M843 387.5h1M79 388.5h1M843 388.5h1M78 389.5h1M844 389.5h1M78 390.5h1M844 390.5h1M78 391.5h1M845 391.5h1M77 392.5h1M845 392.5h1M77 393.5h1M846 393.5h1M77 394.5h1M847 394.5h1M77 395.5h1M847 395.5h1M76 396.5h1M848 396.5h1M76 397.5h1M848 397.5h1M76 398.5h1M849 398.5h1M75 399.5h1M849 399.5h1M75 400.5h1M850 400.5h1M75 401.5h1M850 401.5h1M75 402.5h1M851 402.5h1M74 403.5h1M851 403.5h1M74 404.5h1M852 404.5h1M74 405.5h1M852 405.5h1M74 406.5h1M853 406.5h1M73 407.5h1M853 407.5h1M73 408.5h1M854 408.5h1M73 409.5h1M854 409.5h1M72 410.5h1M855 410.5h1M72 411.5h1M855 411.5h1M72 412.5h1M855 412.5h1M72 413.5h1M856 413.5h1M71 414.5h1M856 414.5h1M71 415.5h1M857 415.5h1M71 416.5h1M857 416.5h1M70 417.5h1M857 417.5h1M70 418.5h1M858 418.5h1M70 419.5h1M858 419.5h1M70 420.5h1M859 420.5h1M69 421.5h1M859 421.5h1M69 422.5h1M859 422.5h1M69 423.5h1M860 423.5h1M68 424.5h1M860 424.5h1M68 425.5h1M861 425.5h1M68 426.5h1M861 426.5h1M67 427.5h1M862 427.5h1M67 428.5h1M862 428.5h1M67 429.5h1M863 429.5h1M67 430.5h1M863 430.5h1M66 431.5h1M864 431.5h1M66 432.5h1M864 432.5h1M66 433.5h1M865 433.5h1M66 434.5h1M865 434.5h1M65 435.5h1M866 435.5h1M65 436.5h1M866 436.5h1M65 437.5h1M867 437.5h1M65 438.5h1M867 438.5h1M65 439.5h1M868 439.5h1M64 440.5h1M868 440.5h1M64 441.5h1M869 441.5h1M64 442.5h1M869 442.5h1M63 443.5h1M870 443.5h1M63 444.5h1M870 444.5h1M0 445.5h1M62 445.5h1M871 445.5h1M1 446.5h1M61 446.5h1M871 446.5h1M2 447.5h1M61 447.5h1M872 447.5h1M3 448.5h1M60 448.5h1M872 448.5h1M4 449.5h1M60 449.5h1M873 449.5h1M5 450.5h1M59 450.5h1M873 450.5h1M6 451.5h2M58 451.5h1M874 451.5h1M8 452.5h2M58 452.5h1M874 452.5h1M10 453.5h2M57 453.5h1M875 453.5h1M12 454.5h2M56 454.5h1M875 454.5h1M14 455.5h2M56 455.5h1M876 455.5h1M16 456.5h2M54 456.5h2M876 456.5h1M18 457.5h1M52 457.5h2M876 457.5h1M19 458.5h2M37 458.5h4M50 458.5h2M877 458.5h1M21 459.5h2M33 459.5h4M41 459.5h4M48 459.5h2M877 459.5h1M23 460.5h10M45 460.5h3M878 460.5h1M878 461.5h1M879 462.5h1M879 463.5h1M880 464.5h1M880 465.5h1M881 466.5h1M881 467.5h1M882 468.5h1M882 469.5h1M883 470.5h1M883 471.5h1M884 472.5h1M884 473.5h1M885 474.5h1M885 475.5h1M885 476.5h1M886 477.5h1M886 478.5h1M886 479.5h1M887 480.5h1M887 481.5h1M887 482.5h1M888 483.5h1M888 484.5h1M888 485.5h1M888 486.5h1M889 487.5h1M889 488.5h1M889 489.5h1M890 490.5h1M890 491.5h1M890 492.5h1M891 493.5h1M891 494.5h1M892 495.5h1M892 496.5h1M892 497.5h1M893 498.5h1M893 499.5h1M893 500.5h1M894 501.5h1M894 502.5h1M895 503.5h1M895 504.5h1M896 505.5h1M896 506.5h1M896 507.5h1M897 508.5h1M897 509.5h1M898 510.5h1M898 511.5h1M899 512.5h1M899 513.5h1M900 514.5h1M900 515.5h1M901 516.5h1M901 517.5h1M1406 517.5h2M902 518.5h1M1404 518.5h2M1408 518.5h4M902 519.5h1M1402 519.5h2M1412 519.5h3M903 520.5h1M1388 520.5h7M1400 520.5h2M904 521.5h1M1383 521.5h5M1395 521.5h5M905 522.5h1M1377 522.5h6M905 523.5h1M1374 523.5h3M906 524.5h1M1373 524.5h1M907 525.5h1M1371 525.5h2M908 526.5h1M1370 526.5h1M908 527.5h1M1369 527.5h1M909 528.5h1M1368 528.5h1M910 529.5h1M1366 529.5h2M911 530.5h2M1365 530.5h1M913 531.5h1M1003 531.5h6M1364 531.5h1M914 532.5h1M999 532.5h4M1009 532.5h5M1362 532.5h2M915 533.5h2M996 533.5h3M1014 533.5h2M1361 533.5h1M917 534.5h1M994 534.5h2M1016 534.5h2M1359 534.5h2M918 535.5h1M992 535.5h2M1018 535.5h2M1358 535.5h1M919 536.5h1M990 536.5h2M1020 536.5h2M1356 536.5h2M919 537.5h1M988 537.5h2M1022 537.5h2M1355 537.5h1M920 538.5h1M986 538.5h2M1024 538.5h2M1031 538.5h7M1053 538.5h11M1262 538.5h3M1354 538.5h1M921 539.5h1M985 539.5h1M1026 539.5h5M1038 539.5h6M1049 539.5h4M1064 539.5h8M1259 539.5h3M1265 539.5h3M1352 539.5h2M922 540.5h1M984 540.5h1M1044 540.5h5M1072 540.5h7M1256 540.5h3M1268 540.5h4M1351 540.5h1M923 541.5h1M983 541.5h1M1079 541.5h4M1253 541.5h3M1272 541.5h2M1349 541.5h2M924 542.5h1M982 542.5h1M1083 542.5h4M1250 542.5h3M1274 542.5h1M1347 542.5h2M924 543.5h1M981 543.5h1M1087 543.5h4M1246 543.5h4M1275 543.5h2M1344 543.5h3M925 544.5h1M980 544.5h1M1091 544.5h4M1185 544.5h16M1242 544.5h4M1277 544.5h1M1342 544.5h2M926 545.5h1M979 545.5h1M1095 545.5h2M1183 545.5h2M1201 545.5h8M1238 545.5h4M1278 545.5h1M1339 545.5h3M927 546.5h1M978 546.5h1M1097 546.5h2M1182 546.5h1M1209 546.5h29M1279 546.5h1M1336 546.5h3M928 547.5h1M977 547.5h1M1099 547.5h2M1180 547.5h2M1280 547.5h2M1333 547.5h3M928 548.5h1M976 548.5h1M1101 548.5h2M1134 548.5h15M1179 548.5h1M1282 548.5h1M1331 548.5h2M929 549.5h1M975 549.5h1M1103 549.5h2M1131 549.5h3M1149 549.5h6M1177 549.5h2M1283 549.5h2M1328 549.5h3M930 550.5h1M974 550.5h1M1105 550.5h2M1128 550.5h3M1155 550.5h5M1175 550.5h2M1285 550.5h2M1318 550.5h10M931 551.5h1M973 551.5h1M1107 551.5h2M1126 551.5h2M1160 551.5h3M1172 551.5h3M1287 551.5h3M1306 551.5h12M932 552.5h1M972 552.5h1M1109 552.5h7M1123 552.5h3M1163 552.5h4M1170 552.5h2M1290 552.5h2M1298 552.5h8M933 553.5h1M971 553.5h1M1116 553.5h7M1167 553.5h3M1292 553.5h6M934 554.5h1M970 554.5h1M935 555.5h1M969 555.5h1M936 556.5h1M967 556.5h2M937 557.5h1M965 557.5h2M937 558.5h1M963 558.5h2M938 559.5h1M961 559.5h2M939 560.5h1M959 560.5h2M940 561.5h1M957 561.5h2M941 562.5h1M955 562.5h2M942 563.5h1M953 563.5h2M943 564.5h10" stroke="#3cb371" stroke-width="1" fill="none" shape-rendering="crispEdges"/>
<g shape-rendering="crispEdges">
<rect x="0" y="430" width="1681" height="1" fill="#ff0000" />
<rect x="0" y="456" width="1681" height="1" fill="#ff0000" />
<rect x="0" y="485" width="1681" height="1" fill="#ffa500" />
<rect x="0" y="506" width="1681" height="1" fill="#0000ff" />
<rect x="0" y="535" width="1681" height="1" fill="#0000ff" />
</g>
<g shape-rendering="crispEdges">
<rect x="15" y="109" width="1" height="4" fill="#000" />
<rect x="23" y="109" width="1" height="45" fill="#000" />
<rect x="31" y="109" width="1" height="29" fill="#000" />
<rect x="29" y="109" width="5" height="20" fill="#000" />
<rect x="39" y="122" width="1" height="98" fill="#000" />
<rect x="37" y="128" width="5" height="83" fill="#000" />
<rect x="47" y="189" width="1" height="72" fill="#000" />
<rect x="45" y="211" width="5" height="49" fill="#000" />
<rect x="55" y="264" width="1" height="12" fill="#000" />
<rect x="53" y="266" width="5" height="9" fill="#000" />
<rect x="63" y="214" width="1" height="61" fill="#000" />
<rect x="61" y="220" width="5" height="55" fill="#000" />
<rect x="62" y="221" width="3" height="53" fill="#fff" />
<rect x="71" y="172" width="1" height="54" fill="#000" />
<rect x="69" y="211" width="5" height="10" fill="#000" />
<rect x="70" y="212" width="3" height="8" fill="#fff" />
<rect x="79" y="168" width="1" height="52" fill="#000" />
<rect x="77" y="184" width="5" height="28" fill="#000" />
<rect x="78" y="185" width="3" height="26" fill="#fff" />
<rect x="87" y="135" width="1" height="53" fill="#000" />
<rect x="85" y="138" width="5" height="47" fill="#000" />
<rect x="86" y="139" width="3" height="45" fill="#fff" />
<rect x="95" y="100" width="1" height="46" fill="#000" />
<rect x="93" y="129" width="5" height="10" fill="#000" />
<rect x="94" y="130" width="3" height="8" fill="#fff" />
<rect x="103" y="121" width="1" height="8" fill="#000" />
<rect x="101" y="122" width="5" height="6" fill="#000" />
<rect x="102" y="123" width="3" height="4" fill="#fff" />
<rect x="111" y="100" width="1" height="30" fill="#000" />
<rect x="109" y="116" width="5" height="7" fill="#000" />
<rect x="110" y="117" width="3" height="5" fill="#fff" />
<rect x="119" y="114" width="1" height="59" fill="#000" />
<rect x="117" y="116" width="5" height="52" fill="#000" />
<rect x="127" y="139" width="1" height="31" fill="#000" />
<rect x="125" y="152" width="5" height="16" fill="#000" />
<rect x="126" y="153" width="3" height="14" fill="#fff" />
<rect x="135" y="144" width="1" height="50" fill="#000" />
<rect x="133" y="152" width="5" height="35" fill="#000" />
<rect x="143" y="186" width="1" height="5" fill="#000" />
<rect x="141" y="187" width="5" height="2" fill="#000" />
<rect x="151" y="171" width="1" height="33" fill="#000" />
<rect x="149" y="182" width="5" height="6" fill="#000" />
<rect x="150" y="183" width="3" height="4" fill="#fff" />
<rect x="159" y="180" width="1" height="43" fill="#000" />
<rect x="157" y="181" width="5" height="40" fill="#000" />
<rect x="167" y="163" width="1" height="59" fill="#000" />
<rect x="165" y="191" width="5" height="29" fill="#000" />
<rect x="166" y="192" width="3" height="27" fill="#fff" />
<rect x="175" y="155" width="1" height="40" fill="#000" />
<rect x="173" y="168" width="5" height="24" fill="#000" />
<rect x="174" y="169" width="3" height="22" fill="#fff" />
<rect x="183" y="150" width="1" height="39" fill="#000" />
<rect x="181" y="169" width="5" height="10" fill="#000" />
<rect x="191" y="174" width="1" height="5" fill="#000" />
<rect x="189" y="174" width="5" height="3" fill="#000" />
<rect x="190" y="175" width="3" height="1" fill="#fff" />
<rect x="199" y="163" width="1" height="27" fill="#000" />
<rect x="197" y="174" width="5" height="1" fill="#000" />
<rect x="207" y="148" width="1" height="33" fill="#000" />
<rect x="205" y="165" width="5" height="10" fill="#000" />
<rect x="206" y="166" width="3" height="8" fill="#fff" />
<rect x="215" y="145" width="1" height="37" fill="#000" />
<rect x="213" y="147" width="5" height="18" fill="#000" />
<rect x="214" y="148" width="3" height="16" fill="#fff" />
<rect x="223" y="122" width="1" height="39" fill="#000" />
<rect x="221" y="127" width="5" height="21" fill="#000" />
<rect x="222" y="128" width="3" height="19" fill="#fff" />
<rect x="231" y="105" width="1" height="44" fill="#000" />
<rect x="229" y="127" width="5" height="8" fill="#000" />
<rect x="239" y="141" width="1" height="3" fill="#000" />
<rect x="237" y="142" width="5" height="2" fill="#000" />
<rect x="247" y="125" width="1" height="32" fill="#000" />
<rect x="245" y="130" width="5" height="14" fill="#000" />
<rect x="246" y="131" width="3" height="12" fill="#fff" />
<rect x="255" y="107" width="1" height="46" fill="#000" />
<rect x="253" y="130" width="5" height="13" fill="#000" />
<rect x="263" y="125" width="1" height="32" fill="#000" />
<rect x="261" y="141" width="5" height="2" fill="#000" />
<rect x="271" y="130" width="1" height="69" fill="#000" />
<rect x="269" y="141" width="5" height="43" fill="#000" />
<rect x="279" y="181" width="1" height="47" fill="#000" />
<rect x="277" y="183" width="5" height="28" fill="#000" />
<rect x="287" y="202" width="1" height="6" fill="#000" />
<rect x="285" y="202" width="5" height="5" fill="#000" />
<rect x="295" y="184" width="1" height="23" fill="#000" />
<rect x="293" y="188" width="5" height="19" fill="#000" />
<rect x="294" y="189" width="3" height="17" fill="#fff" />
<rect x="303" y="144" width="1" height="51" fill="#000" />
<rect x="301" y="149" width="5" height="40" fill="#000" />
<rect x="302" y="150" width="3" height="38" fill="#fff" />
<rect x="311" y="130" width="1" height="22" fill="#000" />
<rect x="309" y="133" width="5" height="16" fill="#000" />
<rect x="310" y="134" width="3" height="14" fill="#fff" />
<rect x="319" y="115" width="1" height="35" fill="#000" />
<rect x="317" y="133" width="5" height="14" fill="#000" />
<rect x="327" y="145" width="1" height="30" fill="#000" />
<rect x="325" y="146" width="5" height="14" fill="#000" />
<rect x="335" y="152" width="1" height="7" fill="#000" />
<rect x="333" y="154" width="5" height="4" fill="#000" />
<rect x="343" y="142" width="1" height="22" fill="#000" />
<rect x="341" y="147" width="5" height="10" fill="#000" />
<rect x="342" y="148" width="3" height="8" fill="#fff" />
<rect x="351" y="135" width="1" height="49" fill="#000" />
<rect x="349" y="147" width="5" height="18" fill="#000" />
<rect x="359" y="148" width="1" height="36" fill="#000" />
<rect x="357" y="152" width="5" height="13" fill="#000" />
<rect x="358" y="153" width="3" height="11" fill="#fff" />
<rect x="367" y="132" width="1" height="25" fill="#000" />
<rect x="365" y="145" width="5" height="8" fill="#000" />
<rect x="366" y="146" width="3" height="6" fill="#fff" />
<rect x="375" y="138" width="1" height="27" fill="#000" />
<rect x="373" y="145" width="5" height="7" fill="#000" />
<rect x="383" y="152" width="1" height="3" fill="#000" />
<rect x="381" y="152" width="5" height="2" fill="#000" />
<rect x="391" y="129" width="1" height="49" fill="#000" />
<rect x="389" y="152" width="5" height="2" fill="#000" />
<rect x="399" y="147" width="1" height="18" fill="#000" />
<rect x="397" y="153" width="5" height="5" fill="#000" />
<rect x="407" y="157" width="1" height="43" fill="#000" />
<rect x="405" y="157" width="5" height="36" fill="#000" />
<rect x="415" y="156" width="1" height="37" fill="#000" />
<rect x="413" y="159" width="5" height="34" fill="#000" />
<rect x="414" y="160" width="3" height="32" fill="#fff" />
<rect x="423" y="144" width="1" height="22" fill="#000" />
<rect x="421" y="149" width="5" height="11" fill="#000" />
<rect x="422" y="150" width="3" height="9" fill="#fff" />
<rect x="431" y="154" width="1" height="4" fill="#000" />
<rect x="429" y="154" width="5" height="3" fill="#000" />
<rect x="439" y="143" width="1" height="19" fill="#000" />
<rect x="437" y="155" width="5" height="2" fill="#000" />
<rect x="447" y="153" width="1" height="42" fill="#000" />
<rect x="445" y="155" width="5" height="35" fill="#000" />
<rect x="455" y="147" width="1" height="43" fill="#000" />
<rect x="453" y="174" width="5" height="16" fill="#000" />
<rect x="454" y="175" width="3" height="14" fill="#fff" />
<rect x="463" y="152" width="1" height="52" fill="#000" />
<rect x="461" y="174" width="5" height="23" fill="#000" />
<rect x="471" y="192" width="1" height="28" fill="#000" />
<rect x="469" y="196" width="5" height="14" fill="#000" />
<rect x="479" y="215" width="1" height="4" fill="#000" />
<rect x="477" y="216" width="5" height="1" fill="#000" />
<rect x="487" y="206" width="1" height="27" fill="#000" />
<rect x="485" y="214" width="5" height="3" fill="#000" />
<rect x="486" y="215" width="3" height="1" fill="#fff" />
<rect x="495" y="199" width="1" height="38" fill="#000" />
<rect x="493" y="210" width="5" height="5" fill="#000" />
<rect x="494" y="211" width="3" height="3" fill="#fff" />
<rect x="503" y="193" width="1" height="24" fill="#000" />
<rect x="501" y="210" width="5" height="3" fill="#000" />
<rect x="511" y="207" width="1" height="46" fill="#000" />
<rect x="509" y="212" width="5" height="34" fill="#000" />
<rect x="519" y="192" width="1" height="62" fill="#000" />
<rect x="517" y="208" width="5" height="38" fill="#000" />
<rect x="518" y="209" width="3" height="36" fill="#fff" />
<rect x="527" y="210" width="1" height="4" fill="#000" />
<rect x="525" y="211" width="5" height="2" fill="#000" />
<rect x="535" y="198" width="1" height="49" fill="#000" />
<rect x="533" y="212" width="5" height="22" fill="#000" />
<rect x="543" y="229" width="1" height="59" fill="#000" />
<rect x="541" y="234" width="5" height="38" fill="#000" />
<rect x="551" y="269" width="1" height="52" fill="#000" />
<rect x="549" y="271" width="5" height="43" fill="#000" />
<rect x="559" y="300" width="1" height="49" fill="#000" />
<rect x="557" y="310" width="5" height="4" fill="#000" />
<rect x="558" y="311" width="3" height="2" fill="#fff" />
<rect x="567" y="247" width="1" height="67" fill="#000" />
<rect x="565" y="252" width="5" height="59" fill="#000" />
<rect x="566" y="253" width="3" height="57" fill="#fff" />
<rect x="575" y="264" width="1" height="7" fill="#000" />
<rect x="573" y="265" width="5" height="5" fill="#000" />
<rect x="583" y="250" width="1" height="40" fill="#000" />
<rect x="581" y="269" width="5" height="14" fill="#000" />
<rect x="591" y="264" width="1" height="35" fill="#000" />
<rect x="589" y="270" width="5" height="13" fill="#000" />
<rect x="590" y="271" width="3" height="11" fill="#fff" />
<rect x="599" y="261" width="1" height="28" fill="#000" />
<rect x="597" y="270" width="5" height="15" fill="#000" />
<rect x="607" y="263" width="1" height="25" fill="#000" />
<rect x="605" y="267" width="5" height="18" fill="#000" />
<rect x="606" y="268" width="3" height="16" fill="#fff" />
<rect x="615" y="260" width="1" height="25" fill="#000" />
<rect x="613" y="267" width="5" height="1" fill="#000" />
<rect x="623" y="262" width="1" height="4" fill="#000" />
<rect x="621" y="263" width="5" height="3" fill="#000" />
<rect x="622" y="264" width="3" height="1" fill="#fff" />
<rect x="631" y="263" width="1" height="35" fill="#000" />
<rect x="629" y="263" width="5" height="33" fill="#000" />
<rect x="639" y="281" width="1" height="43" fill="#000" />
<rect x="637" y="295" width="5" height="14" fill="#000" />
<rect x="647" y="285" width="1" height="31" fill="#000" />
<rect x="645" y="287" width="5" height="22" fill="#000" />
<rect x="646" y="288" width="3" height="20" fill="#fff" />
<rect x="655" y="273" width="1" height="19" fill="#000" />
<rect x="653" y="286" width="5" height="3" fill="#000" />
<rect x="654" y="287" width="3" height="1" fill="#fff" />
<rect x="663" y="277" width="1" height="20" fill="#000" />
<rect x="661" y="286" width="5" height="6" fill="#000" />
<rect x="671" y="288" width="1" height="3" fill="#000" />
<rect x="669" y="288" width="5" height="3" fill="#000" />
<rect x="670" y="289" width="3" height="1" fill="#fff" />
<rect x="679" y="263" width="1" height="48" fill="#000" />
<rect x="677" y="271" width="5" height="19" fill="#000" />
<rect x="678" y="272" width="3" height="17" fill="#fff" />
<rect x="687" y="259" width="1" height="41" fill="#000" />
<rect x="685" y="271" width="5" height="23" fill="#000" />
<rect x="695" y="281" width="1" height="28" fill="#000" />
<rect x="693" y="293" width="5" height="9" fill="#000" />
<rect x="703" y="297" width="1" height="23" fill="#000" />
<rect x="701" y="301" width="5" height="2" fill="#000" />
<rect x="711" y="294" width="1" height="15" fill="#000" />
<rect x="709" y="302" width="5" height="5" fill="#000" />
<rect x="719" y="304" width="1" height="4" fill="#000" />
<rect x="717" y="305" width="5" height="2" fill="#000" />
<rect x="727" y="306" width="1" height="38" fill="#000" />
<rect x="725" y="306" width="5" height="18" fill="#000" />
<rect x="735" y="304" width="1" height="26" fill="#000" />
<rect x="733" y="320" width="5" height="4" fill="#000" />
<rect x="734" y="321" width="3" height="2" fill="#fff" />
<rect x="743" y="316" width="1" height="36" fill="#000" />
<rect x="741" y="320" width="5" height="25" fill="#000" />
<rect x="751" y="328" width="1" height="30" fill="#000" />
<rect x="749" y="332" width="5" height="13" fill="#000" />
<rect x="750" y="333" width="3" height="11" fill="#fff" />
<rect x="759" y="316" width="1" height="28" fill="#000" />
<rect x="757" y="325" width="5" height="9" fill="#000" />
<rect x="758" y="326" width="3" height="7" fill="#fff" />
<rect x="767" y="331" width="1" height="3" fill="#000" />
<rect x="765" y="331" width="5" height="2" fill="#000" />
<rect x="775" y="313" width="1" height="26" fill="#000" />
<rect x="773" y="324" width="5" height="8" fill="#000" />
<rect x="774" y="325" width="3" height="6" fill="#fff" />
<rect x="783" y="320" width="1" height="26" fill="#000" />
<rect x="781" y="324" width="5" height="14" fill="#000" />
<rect x="791" y="301" width="1" height="51" fill="#000" />
<rect x="789" y="311" width="5" height="27" fill="#000" />
<rect x="790" y="312" width="3" height="25" fill="#fff" />
<rect x="799" y="296" width="1" height="22" fill="#000" />
<rect x="797" y="303" width="5" height="9" fill="#000" />
<rect x="798" y="304" width="3" height="7" fill="#fff" />
<rect x="807" y="301" width="1" height="44" fill="#000" />
<rect x="805" y="303" width="5" height="41" fill="#000" />
<rect x="815" y="342" width="1" height="4" fill="#000" />
<rect x="813" y="342" width="5" height="2" fill="#000" />
<rect x="823" y="328" width="1" height="22" fill="#000" />
<rect x="821" y="341" width="5" height="3" fill="#000" />
<rect x="822" y="342" width="3" height="1" fill="#fff" />
<rect x="831" y="335" width="1" height="45" fill="#000" />
<rect x="829" y="342" width="5" height="36" fill="#000" />
<rect x="839" y="362" width="1" height="38" fill="#000" />
<rect x="837" y="377" width="5" height="16" fill="#000" />
<rect x="847" y="392" width="1" height="31" fill="#000" />
<rect x="845" y="392" width="5" height="26" fill="#000" />
<rect x="855" y="414" width="1" height="26" fill="#000" />
<rect x="853" y="418" width="5" height="18" fill="#000" />
<rect x="863" y="439" width="1" height="5" fill="#000" />
<rect x="861" y="441" width="5" height="1" fill="#000" />
<rect x="871" y="431" width="1" height="37" fill="#000" />
<rect x="869" y="442" width="5" height="9" fill="#000" />
<rect x="879" y="432" width="1" height="42" fill="#000" />
<rect x="877" y="450" width="5" height="11" fill="#000" />
<rect x="887" y="455" width="1" height="42" fill="#000" />
<rect x="885" y="459" width="5" height="32" fill="#000" />
<rect x="895" y="476" width="1" height="41" fill="#000" />
<rect x="893" y="490" width="5" height="24" fill="#000" />
<rect x="903" y="480" width="1" height="51" fill="#000" />
<rect x="901" y="483" width="5" height="30" fill="#000" />
<rect x="902" y="484" width="3" height="28" fill="#fff" />
<rect x="911" y="483" width="1" height="7" fill="#000" />
<rect x="909" y="485" width="5" height="3" fill="#000" />
<rect x="910" y="486" width="3" height="1" fill="#fff" />
<rect x="919" y="425" width="1" height="62" fill="#000" />
<rect x="917" y="461" width="5" height="25" fill="#000" />
<rect x="918" y="462" width="3" height="23" fill="#fff" />
<rect x="927" y="455" width="1" height="36" fill="#000" />
<rect x="925" y="461" width="5" height="30" fill="#000" />
<rect x="935" y="486" width="1" height="48" fill="#000" />
<rect x="933" y="490" width="5" height="27" fill="#000" />
<rect x="943" y="488" width="1" height="37" fill="#000" />
<rect x="941" y="505" width="5" height="11" fill="#000" />
<rect x="942" y="506" width="3" height="9" fill="#fff" />
<rect x="951" y="472" width="1" height="36" fill="#000" />
<rect x="949" y="486" width="5" height="20" fill="#000" />
<rect x="950" y="487" width="3" height="18" fill="#fff" />
<rect x="959" y="487" width="1" height="4" fill="#000" />
<rect x="957" y="487" width="5" height="3" fill="#000" />
<rect x="967" y="457" width="1" height="36" fill="#000" />
<rect x="965" y="473" width="5" height="17" fill="#000" />
<rect x="966" y="474" width="3" height="15" fill="#fff" />
<rect x="975" y="461" width="1" height="42" fill="#000" />
<rect x="973" y="462" width="5" height="12" fill="#000" />
<rect x="974" y="463" width="3" height="10" fill="#fff" />
<rect x="983" y="449" width="1" height="57" fill="#000" />
<rect x="981" y="463" width="5" height="33" fill="#000" />
<rect x="991" y="494" width="1" height="22" fill="#000" />
<rect x="989" y="495" width="5" height="13" fill="#000" />
<rect x="999" y="492" width="1" height="21" fill="#000" />
<rect x="997" y="507" width="5" height="2" fill="#000" />
<rect x="1007" y="510" width="1" height="3" fill="#000" />
<rect x="1005" y="510" width="5" height="3" fill="#000" />
<rect x="1015" y="507" width="1" height="26" fill="#000" />
<rect x="1013" y="512" width="5" height="13" fill="#000" />
<rect x="1023" y="524" width="1" height="33" fill="#000" />
<rect x="1021" y="524" width="5" height="23" fill="#000" />
<rect x="1031" y="474" width="1" height="78" fill="#000" />
<rect x="1029" y="478" width="5" height="69" fill="#000" />
<rect x="1030" y="479" width="3" height="67" fill="#fff" />
<rect x="1039" y="470" width="1" height="53" fill="#000" />
<rect x="1037" y="478" width="5" height="45" fill="#000" />
<rect x="1047" y="482" width="1" height="46" fill="#000" />
<rect x="1045" y="492" width="5" height="31" fill="#000" />
<rect x="1046" y="493" width="3" height="29" fill="#fff" />
<rect x="1055" y="493" width="1" height="5" fill="#000" />
<rect x="1053" y="494" width="5" height="3" fill="#000" />
<rect x="1054" y="495" width="3" height="1" fill="#fff" />
<rect x="1063" y="489" width="1" height="31" fill="#000" />
<rect x="1061" y="494" width="5" height="1" fill="#000" />
<rect x="1071" y="490" width="1" height="32" fill="#000" />
<rect x="1069" y="494" width="5" height="23" fill="#000" />
<rect x="1079" y="493" width="1" height="29" fill="#000" />
<rect x="1077" y="516" width="5" height="4" fill="#000" />
<rect x="1087" y="491" width="1" height="51" fill="#000" />
<rect x="1085" y="509" width="5" height="11" fill="#000" />
<rect x="1086" y="510" width="3" height="9" fill="#fff" />
<rect x="1095" y="506" width="1" height="43" fill="#000" />
<rect x="1093" y="509" width="5" height="26" fill="#000" />
<rect x="1103" y="538" width="1" height="6" fill="#000" />
<rect x="1101" y="540" width="5" height="2" fill="#000" />
<rect x="1111" y="532" width="1" height="31" fill="#000" />
<rect x="1109" y="539" width="5" height="3" fill="#000" />
<rect x="1110" y="540" width="3" height="1" fill="#fff" />
<rect x="1119" y="504" width="1" height="59" fill="#000" />
<rect x="1117" y="508" width="5" height="32" fill="#000" />
<rect x="1118" y="509" width="3" height="30" fill="#fff" />
<rect x="1127" y="484" width="1" height="26" fill="#000" />
<rect x="1125" y="497" width="5" height="12" fill="#000" />
<rect x="1126" y="498" width="3" height="10" fill="#fff" />
<rect x="1135" y="481" width="1" height="35" fill="#000" />
<rect x="1133" y="497" width="5" height="9" fill="#000" />
<rect x="1143" y="469" width="1" height="42" fill="#000" />
<rect x="1141" y="492" width="5" height="14" fill="#000" />
<rect x="1142" y="493" width="3" height="12" fill="#fff" />
<rect x="1151" y="484" width="1" height="4" fill="#000" />
<rect x="1149" y="485" width="5" height="2" fill="#000" />
<rect x="1159" y="465" width="1" height="29" fill="#000" />
<rect x="1157" y="468" width="5" height="18" fill="#000" />
<rect x="1158" y="469" width="3" height="16" fill="#fff" />
<rect x="1167" y="448" width="1" height="26" fill="#000" />
<rect x="1165" y="459" width="5" height="10" fill="#000" />
<rect x="1166" y="460" width="3" height="8" fill="#fff" />
<rect x="1175" y="453" width="1" height="42" fill="#000" />
<rect x="1173" y="458" width="5" height="35" fill="#000" />
<rect x="1183" y="492" width="1" height="43" fill="#000" />
<rect x="1181" y="492" width="5" height="12" fill="#000" />
<rect x="1191" y="501" width="1" height="16" fill="#000" />
<rect x="1189" y="504" width="5" height="4" fill="#000" />
<rect x="1199" y="510" width="1" height="3" fill="#000" />
<rect x="1197" y="511" width="5" height="2" fill="#000" />
<rect x="1207" y="507" width="1" height="23" fill="#000" />
<rect x="1205" y="511" width="5" height="4" fill="#000" />
<rect x="1215" y="511" width="1" height="23" fill="#000" />
<rect x="1213" y="513" width="5" height="2" fill="#000" />
<rect x="1223" y="499" width="1" height="32" fill="#000" />
<rect x="1221" y="502" width="5" height="11" fill="#000" />
<rect x="1222" y="503" width="3" height="9" fill="#fff" />
<rect x="1231" y="482" width="1" height="35" fill="#000" />
<rect x="1229" y="502" width="5" height="14" fill="#000" />
<rect x="1239" y="497" width="1" height="23" fill="#000" />
<rect x="1237" y="505" width="5" height="10" fill="#000" />
<rect x="1238" y="506" width="3" height="8" fill="#fff" />
<rect x="1247" y="498" width="1" height="5" fill="#000" />
<rect x="1245" y="499" width="5" height="4" fill="#000" />
<rect x="1246" y="500" width="3" height="2" fill="#fff" />
<rect x="1255" y="464" width="1" height="49" fill="#000" />
<rect x="1253" y="474" width="5" height="25" fill="#000" />
<rect x="1254" y="475" width="3" height="23" fill="#fff" />
<rect x="1263" y="444" width="1" height="40" fill="#000" />
<rect x="1261" y="448" width="5" height="27" fill="#000" />
<rect x="1262" y="449" width="3" height="25" fill="#fff" />
<rect x="1271" y="422" width="1" height="33" fill="#000" />
<rect x="1269" y="424" width="5" height="25" fill="#000" />
<rect x="1270" y="425" width="3" height="23" fill="#fff" />
<rect x="1279" y="402" width="1" height="38" fill="#000" />
<rect x="1277" y="409" width="5" height="16" fill="#000" />
<rect x="1278" y="410" width="3" height="14" fill="#fff" />
<rect x="1287" y="392" width="1" height="28" fill="#000" />
<rect x="1285" y="398" width="5" height="13" fill="#000" />
<rect x="1286" y="399" width="3" height="11" fill="#fff" />
<rect x="1295" y="400" width="1" height="2" fill="#000" />
<rect x="1293" y="400" width="5" height="2" fill="#000" />
<rect x="1303" y="394" width="1" height="34" fill="#000" />
<rect x="1301" y="400" width="5" height="27" fill="#000" />
<rect x="1311" y="421" width="1" height="34" fill="#000" />
<rect x="1309" y="426" width="5" height="26" fill="#000" />
<rect x="1319" y="422" width="1" height="48" fill="#000" />
<rect x="1317" y="443" width="5" height="9" fill="#000" />
<rect x="1318" y="444" width="3" height="7" fill="#fff" />
<rect x="1327" y="440" width="1" height="29" fill="#000" />
<rect x="1325" y="443" width="5" height="12" fill="#000" />
<rect x="1335" y="439" width="1" height="20" fill="#000" />
<rect x="1333" y="445" width="5" height="10" fill="#000" />
<rect x="1334" y="446" width="3" height="8" fill="#fff" />
<rect x="1343" y="458" width="1" height="12" fill="#000" />
<rect x="1341" y="459" width="5" height="2" fill="#000" />
<rect x="1351" y="458" width="1" height="22" fill="#000" />
<rect x="1349" y="459" width="5" height="18" fill="#000" />
<rect x="1359" y="458" width="1" height="26" fill="#000" />
<rect x="1357" y="461" width="5" height="15" fill="#000" />
<rect x="1358" y="462" width="3" height="13" fill="#fff" />
<rect x="1367" y="456" width="1" height="17" fill="#000" />
<rect x="1365" y="462" width="5" height="4" fill="#000" />
<rect x="1375" y="449" width="1" height="24" fill="#000" />
<rect x="1373" y="465" width="5" height="1" fill="#000" />
<rect x="1383" y="464" width="1" height="44" fill="#000" />
<rect x="1381" y="465" width="5" height="41" fill="#000" />
<rect x="1391" y="502" width="1" height="4" fill="#000" />
<rect x="1389" y="502" width="5" height="2" fill="#000" />
<rect x="1399" y="491" width="1" height="23" fill="#000" />
<rect x="1397" y="502" width="5" height="7" fill="#000" />
<rect x="1407" y="474" width="1" height="38" fill="#000" />
<rect x="1405" y="476" width="5" height="35" fill="#000" />
<rect x="1406" y="477" width="3" height="33" fill="#fff" />
<rect x="1415" y="469" width="1" height="29" fill="#000" />
<rect x="1413" y="475" width="5" height="11" fill="#000" />
</g>
<g shape-rendering="crispEdges">
<rect x="1176" y="484" width="270" height="6" fill="#00ff00" />
<rect x="728" y="485" width="10" height="1" fill="#ff0000" />
<rect x="738" y="473" width="74" height="25" fill="#ff0000" />
<rect x="739" y="474" width="72" height="23" fill="#fff" />
<rect x="1278" y="392" width="10" height="1" fill="#ff0000" />
<rect x="1216" y="383" width="62" height="19" fill="#ff0000" />
<rect x="1217" y="384" width="60" height="17" fill="#fff" />
</g>
<text x="740.0" y="494.3" font-size="22.4" fill="#ff0000" textLength="70.4" lengthAdjust="spacingAndGlyphs" >0.91346</text>
<text x="1218.3" y="399.5" font-size="17.4" fill="#ff0000" textLength="57.8" lengthAdjust="spacingAndGlyphs" >0.92977</text>
<g stroke="#ff0000" stroke-width="3.6" fill="#ff0000" stroke-linecap="butt">
<line x1="1290.8" y1="390" x2="1399" y2="509.5"/>
<line x1="1403" y1="512.5" x2="1416" y2="489.5"/>
</g>
<polygon fill="#ff0000" points="1403.3,514.3 1392.6,507.2 1399.8,501.8"/>
<polygon fill="#ff0000" points="1402.9,514.3 1399.5,510.5 1406,508.5"/>
<polygon fill="#ff0000" points="1420,483 1410,490 1419,495"/>
<text x="1450.5" y="488.4" font-size="21.4" fill="#00ff00" font-weight="600" textLength="110.5" lengthAdjust="spacingAndGlyphs" font-family="'Noto Serif CJK SC','Noto Sans CJK SC',serif" >多空转折点</text>
</g>
<rect x="0" y="33" width="1.5" height="1" fill="#000" />
<text x="6.3" y="34.7" font-size="10" fill="#000" textLength="214.5" lengthAdjust="spacingAndGlyphs" >USDCHF-,Daily&#160;&#160;0.91509 0.91618 0.91123 0.91333</text>
<g shape-rendering="crispEdges">
<rect x="0" y="41" width="215" height="68" fill="#fff" />
<rect x="0" y="43" width="46" height="25" fill="url(#gtab)" />
<rect x="45" y="43" width="1" height="25" fill="#b81414" />
<rect x="0" y="43" width="46" height="1" fill="#c82020" />
<rect x="0" y="66" width="42" height="1" fill="#8c0a0a" />
<rect x="0" y="67" width="42" height="1" fill="#f06060" />
<rect x="161" y="43" width="52" height="25" fill="url(#gtab)" />
<rect x="161" y="43" width="1" height="25" fill="#b81414" />
<rect x="212" y="43" width="1" height="64" fill="#b01010" />
<rect x="161" y="43" width="52" height="1" fill="#c82020" />
<rect x="165" y="66" width="44" height="1" fill="#8c0a0a" />
<rect x="165" y="67" width="44" height="1" fill="#f06060" />
<rect x="0" y="67.4" width="103" height="39.3" fill="url(#gbox)" shape-rendering="auto"/>
<rect x="102" y="68" width="1" height="39" fill="#a00808" />
<rect x="105" y="67.4" width="108" height="39.3" fill="url(#gbox)" shape-rendering="auto"/>
<rect x="105" y="68" width="1" height="39" fill="#b81414" />
<rect x="0" y="106" width="103" height="1" fill="#9c0404" />
<rect x="105" y="106" width="108" height="1" fill="#9c0404" />
<rect x="0" y="68" width="46" height="1" fill="#dc2c2c" />
<rect x="161" y="68" width="52" height="1" fill="#dc2c2c" />
<rect x="48" y="43" width="111" height="22" fill="#a8adb4" />
<rect x="49" y="44" width="109" height="20" fill="#fff" />
<rect x="49" y="44" width="20" height="20" fill="url(#gbtn)" />
<rect x="69" y="44" width="1" height="20" fill="#a8adb4" />
<rect x="138" y="44" width="20" height="20" fill="url(#gbtn)" />
<rect x="137" y="44" width="1" height="20" fill="#a8adb4" />
</g>
<polygon fill="#4a5fc0" points="55.8,52.5 61.2,52.5 58.5,55.3"/>
<polygon fill="#4a5fc0" points="145,55.3 150.6,55.3 147.8,52.3"/>
<text x="133.8" y="57.9" font-size="11.7" fill="#000" text-anchor="end" textLength="23.1" lengthAdjust="spacingAndGlyphs" >1.00</text>
<text x="6.5" y="59.1" font-size="11.6" fill="#fff" textLength="25.2" lengthAdjust="spacingAndGlyphs" >SELL</text>
<text x="175.0" y="59.1" font-size="11.6" fill="#fff" textLength="22.5" lengthAdjust="spacingAndGlyphs" >BUY</text>
<text x="13.7" y="97.9" font-size="12.2" fill="#fff" font-weight="bold" textLength="24.1" lengthAdjust="spacingAndGlyphs" >0.91</text>
<text x="42.2" y="98.3" font-size="33.5" fill="#fff" textLength="33.0" lengthAdjust="spacingAndGlyphs" stroke="url(#gboxu)" stroke-width="0.6">33</text>
<text x="81.7" y="81.9" font-size="11.6" fill="#fff" font-weight="bold" textLength="6.1" lengthAdjust="spacingAndGlyphs" >3</text>
<text x="123.8" y="97.9" font-size="12.2" fill="#fff" font-weight="bold" textLength="24.1" lengthAdjust="spacingAndGlyphs" >0.91</text>
<text x="153.5" y="98.3" font-size="33.5" fill="#fff" textLength="33.3" lengthAdjust="spacingAndGlyphs" stroke="url(#gboxu)" stroke-width="0.6">39</text>
<text x="192.2" y="81.9" font-size="11.6" fill="#fff" font-weight="bold" textLength="6.8" lengthAdjust="spacingAndGlyphs" >0</text>
<g shape-rendering="crispEdges">
<rect x="1682" y="45" width="2" height="1" fill="#000" />
<rect x="1682" y="78" width="2" height="1" fill="#000" />
<rect x="1682" y="111" width="2" height="1" fill="#000" />
<rect x="1682" y="144" width="2" height="1" fill="#000" />
<rect x="1682" y="177" width="2" height="1" fill="#000" />
<rect x="1682" y="210" width="2" height="1" fill="#000" />
<rect x="1682" y="243" width="2" height="1" fill="#000" />
<rect x="1682" y="276" width="2" height="1" fill="#000" />
<rect x="1682" y="309" width="2" height="1" fill="#000" />
<rect x="1682" y="342" width="2" height="1" fill="#000" />
<rect x="1682" y="375" width="2" height="1" fill="#000" />
<rect x="1682" y="408" width="2" height="1" fill="#000" />
<rect x="1682" y="441" width="2" height="1" fill="#000" />
<rect x="1682" y="474" width="2" height="1" fill="#000" />
<rect x="1682" y="507" width="2" height="1" fill="#000" />
<rect x="1682" y="540" width="2" height="1" fill="#000" />
<rect x="1682" y="573" width="2" height="1" fill="#000" />
<rect x="1682" y="580" width="2" height="1" fill="#000" />
<rect x="1682" y="642" width="2" height="1" fill="#000" />
<rect x="1682" y="747" width="2" height="1" fill="#000" />
<rect x="1682" y="752" width="2" height="1" fill="#000" />
</g>
<text x="1687.0" y="49.1" font-size="10" fill="#000" textLength="33.0" lengthAdjust="spacingAndGlyphs" >0.99065</text>
<text x="1687.0" y="82.1" font-size="10" fill="#000" textLength="33.0" lengthAdjust="spacingAndGlyphs" >0.98495</text>
<text x="1687.0" y="115.1" font-size="10" fill="#000" textLength="33.0" lengthAdjust="spacingAndGlyphs" >0.97910</text>
<text x="1687.0" y="148.1" font-size="10" fill="#000" textLength="33.0" lengthAdjust="spacingAndGlyphs" >0.97325</text>
<text x="1687.0" y="181.1" font-size="10" fill="#000" textLength="33.0" lengthAdjust="spacingAndGlyphs" >0.96755</text>
<text x="1687.0" y="214.1" font-size="10" fill="#000" textLength="33.0" lengthAdjust="spacingAndGlyphs" >0.96170</text>
<text x="1687.0" y="247.1" font-size="10" fill="#000" textLength="33.0" lengthAdjust="spacingAndGlyphs" >0.95585</text>
<text x="1687.0" y="280.1" font-size="10" fill="#000" textLength="33.0" lengthAdjust="spacingAndGlyphs" >0.95015</text>
<text x="1687.0" y="313.1" font-size="10" fill="#000" textLength="33.0" lengthAdjust="spacingAndGlyphs" >0.94430</text>
<text x="1687.0" y="346.1" font-size="10" fill="#000" textLength="33.0" lengthAdjust="spacingAndGlyphs" >0.93845</text>
<text x="1687.0" y="379.1" font-size="10" fill="#000" textLength="33.0" lengthAdjust="spacingAndGlyphs" >0.93275</text>
<text x="1687.0" y="412.1" font-size="10" fill="#000" textLength="33.0" lengthAdjust="spacingAndGlyphs" >0.92690</text>
<text x="1687.0" y="445.1" font-size="10" fill="#000" textLength="33.0" lengthAdjust="spacingAndGlyphs" >0.92105</text>
<text x="1687.0" y="478.1" font-size="10" fill="#000" textLength="33.0" lengthAdjust="spacingAndGlyphs" >0.91535</text>
<text x="1687.0" y="511.1" font-size="10" fill="#000" textLength="33.0" lengthAdjust="spacingAndGlyphs" >0.90950</text>
<text x="1687.0" y="544.1" font-size="10" fill="#000" textLength="33.0" lengthAdjust="spacingAndGlyphs" >0.90385</text>
<text x="1687.0" y="577.1" font-size="10" fill="#000" textLength="33.0" lengthAdjust="spacingAndGlyphs" >0.89795</text>
<g shape-rendering="crispEdges">
<rect x="1683" y="424" width="41" height="11" fill="#ff0000" />
<rect x="1683" y="450" width="41" height="11" fill="#ff0000" />
<rect x="1683" y="479" width="41" height="11" fill="#ffa500" />
<rect x="1683" y="500" width="41" height="11" fill="#0000ff" />
<rect x="1683" y="529" width="41" height="11" fill="#0000ff" />
<rect x="1683" y="490" width="41" height="1" fill="#000" />
</g>
<text x="1687.3" y="433.1" font-size="10" fill="#fff" textLength="32.6" lengthAdjust="spacingAndGlyphs" >0.92310</text>
<text x="1687.3" y="459.1" font-size="10" fill="#fff" textLength="32.6" lengthAdjust="spacingAndGlyphs" >0.91854</text>
<text x="1687.3" y="488.1" font-size="10" fill="#fff" textLength="32.6" lengthAdjust="spacingAndGlyphs" >0.91346</text>
<text x="1687.3" y="509.1" font-size="10" fill="#fff" textLength="32.6" lengthAdjust="spacingAndGlyphs" >0.90978</text>
<text x="1687.3" y="538.1" font-size="10" fill="#fff" textLength="32.6" lengthAdjust="spacingAndGlyphs" >0.90469</text>
<text x="1684.9" y="588.9" font-size="10" fill="#000" textLength="32.8" lengthAdjust="spacingAndGlyphs" >0.00564</text>
<text x="1685.0" y="645.6" font-size="10" fill="#000" textLength="17.7" lengthAdjust="spacingAndGlyphs" >0.00</text>
<text x="1684.9" y="745.2" font-size="10" fill="#000" textLength="40.5" lengthAdjust="spacingAndGlyphs" >-0.009565</text>
<text x="1685.4" y="761.2" font-size="10" fill="#000" textLength="14.5" lengthAdjust="spacingAndGlyphs" >100</text>
<text x="1684.0" y="789.9" font-size="10" fill="#000" textLength="9.8" lengthAdjust="spacingAndGlyphs" >80</text>
<text x="1684.0" y="841.2" font-size="10" fill="#000" textLength="9.8" lengthAdjust="spacingAndGlyphs" >50</text>
<text x="1684.9" y="902.1" font-size="10" fill="#000" textLength="9.0" lengthAdjust="spacingAndGlyphs" >15</text>
<text x="1685.0" y="921.2" font-size="10" fill="#000" textLength="4.8" lengthAdjust="spacingAndGlyphs" >0</text>
<g clip-path="url(#cd)">
<g shape-rendering="crispEdges">
<rect x="7" y="607" width="1" height="36" fill="#c0c0c0" />
<rect x="15" y="596" width="1" height="47" fill="#c0c0c0" />
<rect x="23" y="590" width="1" height="53" fill="#c0c0c0" />
<rect x="31" y="589" width="1" height="54" fill="#c0c0c0" />
<rect x="39" y="601" width="1" height="42" fill="#c0c0c0" />
<rect x="47" y="619" width="1" height="24" fill="#c0c0c0" />
<rect x="55" y="635" width="1" height="8" fill="#c0c0c0" />
<rect x="63" y="640" width="1" height="3" fill="#c0c0c0" />
<rect x="71" y="641" width="1" height="2" fill="#c0c0c0" />
<rect x="79" y="640" width="1" height="3" fill="#c0c0c0" />
<rect x="87" y="631" width="1" height="12" fill="#c0c0c0" />
<rect x="95" y="622" width="1" height="21" fill="#c0c0c0" />
<rect x="103" y="615" width="1" height="28" fill="#c0c0c0" />
<rect x="111" y="609" width="1" height="34" fill="#c0c0c0" />
<rect x="119" y="612" width="1" height="31" fill="#c0c0c0" />
<rect x="127" y="613" width="1" height="30" fill="#c0c0c0" />
<rect x="135" y="619" width="1" height="24" fill="#c0c0c0" />
<rect x="143" y="624" width="1" height="19" fill="#c0c0c0" />
<rect x="151" y="627" width="1" height="16" fill="#c0c0c0" />
<rect x="159" y="636" width="1" height="7" fill="#c0c0c0" />
<rect x="167" y="639" width="1" height="4" fill="#c0c0c0" />
<rect x="175" y="637" width="1" height="6" fill="#c0c0c0" />
<rect x="183" y="638" width="1" height="5" fill="#c0c0c0" />
<rect x="191" y="637" width="1" height="6" fill="#c0c0c0" />
<rect x="199" y="637" width="1" height="6" fill="#c0c0c0" />
<rect x="207" y="636" width="1" height="7" fill="#c0c0c0" />
<rect x="215" y="632" width="1" height="11" fill="#c0c0c0" />
<rect x="223" y="626" width="1" height="17" fill="#c0c0c0" />
<rect x="231" y="623" width="1" height="20" fill="#c0c0c0" />
<rect x="239" y="622" width="1" height="21" fill="#c0c0c0" />
<rect x="247" y="619" width="1" height="24" fill="#c0c0c0" />
<rect x="255" y="619" width="1" height="24" fill="#c0c0c0" />
<rect x="263" y="619" width="1" height="24" fill="#c0c0c0" />
<rect x="271" y="626" width="1" height="17" fill="#c0c0c0" />
<rect x="279" y="636" width="1" height="7" fill="#c0c0c0" />
<rect x="287" y="642" width="1" height="1" fill="#c0c0c0" />
<rect x="295" y="642" width="1" height="3" fill="#c0c0c0" />
<rect x="303" y="642" width="1" height="1" fill="#c0c0c0" />
<rect x="311" y="636" width="1" height="7" fill="#c0c0c0" />
<rect x="319" y="634" width="1" height="9" fill="#c0c0c0" />
<rect x="327" y="635" width="1" height="8" fill="#c0c0c0" />
<rect x="335" y="635" width="1" height="8" fill="#c0c0c0" />
<rect x="343" y="633" width="1" height="10" fill="#c0c0c0" />
<rect x="351" y="635" width="1" height="8" fill="#c0c0c0" />
<rect x="359" y="634" width="1" height="9" fill="#c0c0c0" />
<rect x="367" y="633" width="1" height="10" fill="#c0c0c0" />
<rect x="375" y="633" width="1" height="10" fill="#c0c0c0" />
<rect x="383" y="633" width="1" height="10" fill="#c0c0c0" />
<rect x="391" y="633" width="1" height="10" fill="#c0c0c0" />
<rect x="399" y="635" width="1" height="8" fill="#c0c0c0" />
<rect x="407" y="641" width="1" height="2" fill="#c0c0c0" />
<rect x="415" y="641" width="1" height="2" fill="#c0c0c0" />
<rect x="423" y="640" width="1" height="3" fill="#c0c0c0" />
<rect x="431" y="639" width="1" height="4" fill="#c0c0c0" />
<rect x="439" y="639" width="1" height="4" fill="#c0c0c0" />
<rect x="447" y="642" width="1" height="1" fill="#c0c0c0" />
<rect x="455" y="642" width="1" height="3" fill="#c0c0c0" />
<rect x="463" y="642" width="1" height="8" fill="#c0c0c0" />
<rect x="471" y="642" width="1" height="13" fill="#c0c0c0" />
<rect x="479" y="642" width="1" height="19" fill="#c0c0c0" />
<rect x="487" y="642" width="1" height="22" fill="#c0c0c0" />
<rect x="495" y="642" width="1" height="24" fill="#c0c0c0" />
<rect x="503" y="642" width="1" height="26" fill="#c0c0c0" />
<rect x="511" y="642" width="1" height="32" fill="#c0c0c0" />
<rect x="519" y="642" width="1" height="30" fill="#c0c0c0" />
<rect x="527" y="642" width="1" height="30" fill="#c0c0c0" />
<rect x="535" y="642" width="1" height="32" fill="#c0c0c0" />
<rect x="543" y="642" width="1" height="39" fill="#c0c0c0" />
<rect x="551" y="642" width="1" height="50" fill="#c0c0c0" />
<rect x="559" y="642" width="1" height="58" fill="#c0c0c0" />
<rect x="567" y="642" width="1" height="56" fill="#c0c0c0" />
<rect x="575" y="642" width="1" height="55" fill="#c0c0c0" />
<rect x="583" y="642" width="1" height="56" fill="#c0c0c0" />
<rect x="591" y="642" width="1" height="55" fill="#c0c0c0" />
<rect x="599" y="642" width="1" height="55" fill="#c0c0c0" />
<rect x="607" y="642" width="1" height="52" fill="#c0c0c0" />
<rect x="615" y="642" width="1" height="48" fill="#c0c0c0" />
<rect x="623" y="642" width="1" height="45" fill="#c0c0c0" />
<rect x="631" y="642" width="1" height="47" fill="#c0c0c0" />
<rect x="639" y="642" width="1" height="48" fill="#c0c0c0" />
<rect x="647" y="642" width="1" height="48" fill="#c0c0c0" />
<rect x="655" y="642" width="1" height="46" fill="#c0c0c0" />
<rect x="663" y="642" width="1" height="44" fill="#c0c0c0" />
<rect x="671" y="642" width="1" height="42" fill="#c0c0c0" />
<rect x="679" y="642" width="1" height="38" fill="#c0c0c0" />
<rect x="687" y="642" width="1" height="37" fill="#c0c0c0" />
<rect x="695" y="642" width="1" height="37" fill="#c0c0c0" />
<rect x="703" y="642" width="1" height="37" fill="#c0c0c0" />
<rect x="711" y="642" width="1" height="38" fill="#c0c0c0" />
<rect x="719" y="642" width="1" height="37" fill="#c0c0c0" />
<rect x="727" y="642" width="1" height="39" fill="#c0c0c0" />
<rect x="735" y="642" width="1" height="40" fill="#c0c0c0" />
<rect x="743" y="642" width="1" height="43" fill="#c0c0c0" />
<rect x="751" y="642" width="1" height="44" fill="#c0c0c0" />
<rect x="759" y="642" width="1" height="43" fill="#c0c0c0" />
<rect x="767" y="642" width="1" height="42" fill="#c0c0c0" />
<rect x="775" y="642" width="1" height="40" fill="#c0c0c0" />
<rect x="783" y="642" width="1" height="40" fill="#c0c0c0" />
<rect x="791" y="642" width="1" height="36" fill="#c0c0c0" />
<rect x="799" y="642" width="1" height="30" fill="#c0c0c0" />
<rect x="807" y="642" width="1" height="33" fill="#c0c0c0" />
<rect x="815" y="642" width="1" height="34" fill="#c0c0c0" />
<rect x="823" y="642" width="1" height="34" fill="#c0c0c0" />
<rect x="831" y="642" width="1" height="39" fill="#c0c0c0" />
<rect x="839" y="642" width="1" height="45" fill="#c0c0c0" />
<rect x="847" y="642" width="1" height="53" fill="#c0c0c0" />
<rect x="855" y="642" width="1" height="62" fill="#c0c0c0" />
<rect x="863" y="642" width="1" height="69" fill="#c0c0c0" />
<rect x="871" y="642" width="1" height="75" fill="#c0c0c0" />
<rect x="879" y="642" width="1" height="80" fill="#c0c0c0" />
<rect x="887" y="642" width="1" height="88" fill="#c0c0c0" />
<rect x="895" y="642" width="1" height="97" fill="#c0c0c0" />
<rect x="903" y="642" width="1" height="98" fill="#c0c0c0" />
<rect x="911" y="642" width="1" height="98" fill="#c0c0c0" />
<rect x="919" y="642" width="1" height="93" fill="#c0c0c0" />
<rect x="927" y="642" width="1" height="93" fill="#c0c0c0" />
<rect x="935" y="642" width="1" height="96" fill="#c0c0c0" />
<rect x="943" y="642" width="1" height="95" fill="#c0c0c0" />
<rect x="951" y="642" width="1" height="90" fill="#c0c0c0" />
<rect x="959" y="642" width="1" height="86" fill="#c0c0c0" />
<rect x="967" y="642" width="1" height="80" fill="#c0c0c0" />
<rect x="975" y="642" width="1" height="72" fill="#c0c0c0" />
<rect x="983" y="642" width="1" height="70" fill="#c0c0c0" />
<rect x="991" y="642" width="1" height="69" fill="#c0c0c0" />
<rect x="999" y="642" width="1" height="68" fill="#c0c0c0" />
<rect x="1007" y="642" width="1" height="68" fill="#c0c0c0" />
<rect x="1015" y="642" width="1" height="68" fill="#c0c0c0" />
<rect x="1023" y="642" width="1" height="70" fill="#c0c0c0" />
<rect x="1031" y="642" width="1" height="62" fill="#c0c0c0" />
<rect x="1039" y="642" width="1" height="61" fill="#c0c0c0" />
<rect x="1047" y="642" width="1" height="55" fill="#c0c0c0" />
<rect x="1055" y="642" width="1" height="50" fill="#c0c0c0" />
<rect x="1063" y="642" width="1" height="45" fill="#c0c0c0" />
<rect x="1071" y="642" width="1" height="44" fill="#c0c0c0" />
<rect x="1079" y="642" width="1" height="44" fill="#c0c0c0" />
<rect x="1087" y="642" width="1" height="41" fill="#c0c0c0" />
<rect x="1095" y="642" width="1" height="43" fill="#c0c0c0" />
<rect x="1103" y="642" width="1" height="44" fill="#c0c0c0" />
<rect x="1111" y="642" width="1" height="45" fill="#c0c0c0" />
<rect x="1119" y="642" width="1" height="40" fill="#c0c0c0" />
<rect x="1127" y="642" width="1" height="34" fill="#c0c0c0" />
<rect x="1135" y="642" width="1" height="29" fill="#c0c0c0" />
<rect x="1143" y="642" width="1" height="24" fill="#c0c0c0" />
<rect x="1151" y="642" width="1" height="19" fill="#c0c0c0" />
<rect x="1159" y="642" width="1" height="11" fill="#c0c0c0" />
<rect x="1167" y="642" width="1" height="5" fill="#c0c0c0" />
<rect x="1175" y="642" width="1" height="4" fill="#c0c0c0" />
<rect x="1183" y="642" width="1" height="6" fill="#c0c0c0" />
<rect x="1191" y="642" width="1" height="6" fill="#c0c0c0" />
<rect x="1199" y="642" width="1" height="8" fill="#c0c0c0" />
<rect x="1207" y="642" width="1" height="10" fill="#c0c0c0" />
<rect x="1215" y="642" width="1" height="10" fill="#c0c0c0" />
<rect x="1223" y="642" width="1" height="9" fill="#c0c0c0" />
<rect x="1231" y="642" width="1" height="10" fill="#c0c0c0" />
<rect x="1239" y="642" width="1" height="10" fill="#c0c0c0" />
<rect x="1247" y="642" width="1" height="9" fill="#c0c0c0" />
<rect x="1255" y="642" width="1" height="4" fill="#c0c0c0" />
<rect x="1263" y="638" width="1" height="5" fill="#c0c0c0" />
<rect x="1271" y="628" width="1" height="15" fill="#c0c0c0" />
<rect x="1279" y="618" width="1" height="25" fill="#c0c0c0" />
<rect x="1287" y="609" width="1" height="34" fill="#c0c0c0" />
<rect x="1295" y="602" width="1" height="41" fill="#c0c0c0" />
<rect x="1303" y="602" width="1" height="41" fill="#c0c0c0" />
<rect x="1311" y="606" width="1" height="37" fill="#c0c0c0" />
<rect x="1319" y="608" width="1" height="35" fill="#c0c0c0" />
<rect x="1327" y="611" width="1" height="32" fill="#c0c0c0" />
<rect x="1335" y="613" width="1" height="30" fill="#c0c0c0" />
<rect x="1343" y="617" width="1" height="26" fill="#c0c0c0" />
<rect x="1351" y="623" width="1" height="20" fill="#c0c0c0" />
<rect x="1359" y="626" width="1" height="17" fill="#c0c0c0" />
<rect x="1367" y="629" width="1" height="14" fill="#c0c0c0" />
<rect x="1375" y="632" width="1" height="11" fill="#c0c0c0" />
<rect x="1383" y="640" width="1" height="3" fill="#c0c0c0" />
<rect x="1391" y="642" width="1" height="3" fill="#c0c0c0" />
<rect x="1399" y="642" width="1" height="9" fill="#c0c0c0" />
<rect x="1407" y="642" width="1" height="8" fill="#c0c0c0" />
<rect x="1415" y="642" width="1" height="9" fill="#c0c0c0" />
</g>
<path d="M1348 609.5h3M64 610.5h1M1338 610.5h1M1342 610.5h3M1354 610.5h3M59 611.5h2M65 611.5h2M1336 611.5h2M1360 611.5h1M58 612.5h1M1330 612.5h3M1361 612.5h2M54 613.5h1M70 613.5h3M1366 613.5h2M52 614.5h2M76 614.5h2M1325 614.5h2M1368 614.5h1M78 615.5h1M1324 615.5h1M48 616.5h1M82 616.5h1M1320 616.5h1M1372 616.5h2M47 617.5h1M83 617.5h2M1318 617.5h2M1374 617.5h1M47 618.5h1M148 618.5h3M154 618.5h3M88 619.5h1M142 619.5h3M160 619.5h3M166 619.5h2M1314 619.5h1M1378 619.5h2M89 620.5h2M137 620.5h2M168 620.5h1M1313 620.5h1M1380 620.5h1M136 621.5h1M1312 621.5h1M44 622.5h1M94 622.5h1M132 622.5h1M172 622.5h2M1384 622.5h2M43 623.5h1M95 623.5h2M130 623.5h2M174 623.5h1M1386 623.5h1M43 624.5h1M125 624.5h2M178 624.5h2M268 624.5h3M274 624.5h3M280 624.5h3M1308 624.5h1M100 625.5h2M124 625.5h1M180 625.5h1M262 625.5h3M286 625.5h3M1307 625.5h1M1390 625.5h2M102 626.5h1M118 626.5h3M184 626.5h1M256 626.5h3M292 626.5h3M1306 626.5h1M1392 626.5h1M106 627.5h3M113 627.5h2M185 627.5h2M252 627.5h1M298 627.5h1M40 628.5h1M112 628.5h1M190 628.5h1M250 628.5h2M299 628.5h2M1396 628.5h2M39 629.5h1M191 629.5h2M246 629.5h1M304 629.5h2M1301 629.5h2M1398 629.5h1M39 630.5h1M244 630.5h2M306 630.5h1M1300 630.5h1M196 631.5h3M240 631.5h1M310 631.5h3M1402 631.5h1M202 632.5h1M238 632.5h2M316 632.5h1M1296 632.5h1M1403 632.5h1M203 633.5h2M232 633.5h3M317 633.5h2M370 633.5h3M376 633.5h3M382 633.5h3M388 633.5h3M394 633.5h3M400 633.5h3M1295 633.5h1M1404 633.5h1M36 634.5h1M208 634.5h3M214 634.5h3M220 634.5h3M226 634.5h3M322 634.5h3M364 634.5h3M406 634.5h3M1294 634.5h1M35 635.5h1M328 635.5h3M359 635.5h2M412 635.5h3M418 635.5h3M424 635.5h3M430 635.5h2M1408 635.5h2M34 636.5h1M334 636.5h3M340 636.5h1M358 636.5h1M432 636.5h1M436 636.5h3M1290 636.5h1M1410 636.5h1M341 637.5h2M346 637.5h3M352 637.5h3M442 637.5h3M1289 637.5h1M448 638.5h3M1288 638.5h1M454 639.5h3M32 640.5h1M460 640.5h3M1283 640.5h2M31 641.5h1M466 641.5h1M1282 641.5h1M31 642.5h1M467 642.5h2M472 643.5h2M1278 643.5h1M474 644.5h1M1276 644.5h2M478 645.5h3M29 646.5h1M1272 646.5h1M28 647.5h1M484 647.5h3M1270 647.5h2M28 648.5h1M490 649.5h2M1265 649.5h2M492 650.5h1M1222 650.5h3M1228 650.5h3M1234 650.5h2M1258 650.5h3M1264 650.5h1M496 651.5h1M1216 651.5h3M1236 651.5h1M1240 651.5h3M1246 651.5h3M1252 651.5h3M26 652.5h1M497 652.5h2M1210 652.5h3M25 653.5h1M1205 653.5h2M25 654.5h1M502 654.5h2M1204 654.5h1M504 655.5h1M1199 655.5h2M1198 656.5h1M508 657.5h2M1194 657.5h1M23 658.5h1M510 658.5h1M1192 658.5h2M22 659.5h1M22 660.5h1M514 660.5h2M1186 660.5h3M516 661.5h1M1181 662.5h2M520 663.5h3M1180 663.5h1M20 664.5h1M526 664.5h2M19 665.5h1M528 665.5h1M1176 665.5h1M19 666.5h1M532 666.5h2M1174 666.5h2M534 667.5h1M538 668.5h1M539 669.5h2M1170 669.5h1M17 670.5h1M1168 670.5h2M16 671.5h1M544 671.5h2M16 672.5h1M546 672.5h1M1163 673.5h2M550 674.5h2M1162 674.5h1M552 675.5h1M14 676.5h1M1156 676.5h3M13 677.5h1M556 677.5h2M13 678.5h1M558 678.5h1M1150 678.5h3M821 679.5h2M826 679.5h3M832 679.5h3M838 679.5h3M1146 679.5h1M562 680.5h3M730 680.5h3M736 680.5h2M814 680.5h3M820 680.5h1M844 680.5h3M1144 680.5h2M568 681.5h1M724 681.5h3M738 681.5h1M742 681.5h3M748 681.5h3M754 681.5h3M803 681.5h2M808 681.5h3M850 681.5h1M1138 681.5h3M11 682.5h1M569 682.5h2M718 682.5h3M760 682.5h3M766 682.5h2M797 682.5h2M802 682.5h1M851 682.5h2M1134 682.5h1M11 683.5h1M707 683.5h2M712 683.5h3M768 683.5h1M772 683.5h3M778 683.5h3M784 683.5h3M790 683.5h3M796 683.5h1M1132 683.5h2M11 684.5h1M574 684.5h1M700 684.5h3M706 684.5h1M856 684.5h2M1126 684.5h3M575 685.5h2M694 685.5h3M858 685.5h1M1122 685.5h1M580 686.5h2M682 686.5h3M688 686.5h3M862 686.5h2M1120 686.5h2M582 687.5h1M676 687.5h3M864 687.5h1M9 688.5h1M586 688.5h1M671 688.5h2M1114 688.5h3M8 689.5h1M587 689.5h2M670 689.5h1M868 689.5h1M1102 689.5h3M1108 689.5h3M8 690.5h1M664 690.5h3M869 690.5h2M1097 690.5h2M592 691.5h3M653 691.5h2M658 691.5h3M1096 691.5h1M598 692.5h1M652 692.5h1M1092 692.5h1M599 693.5h2M640 693.5h3M646 693.5h3M874 693.5h1M1090 693.5h2M6 694.5h1M604 694.5h2M629 694.5h2M634 694.5h3M875 694.5h2M1086 694.5h1M6 695.5h1M606 695.5h1M610 695.5h2M628 695.5h1M1084 695.5h2M5 696.5h1M612 696.5h1M616 696.5h3M622 696.5h3M1080 696.5h1M880 697.5h1M1078 697.5h2M881 698.5h1M882 699.5h1M1074 699.5h1M4 700.5h1M1072 700.5h2M3 701.5h1M3 702.5h1M886 702.5h1M1067 702.5h2M887 703.5h2M1066 703.5h1M1060 704.5h3M1055 705.5h2M1 706.5h1M1054 706.5h1M0 707.5h1M892 707.5h1M1050 707.5h1M0 708.5h1M893 708.5h1M1048 708.5h2M894 709.5h1M1042 709.5h3M1036 711.5h3M898 712.5h1M899 713.5h1M1030 713.5h3M900 714.5h1M1024 714.5h3M1019 715.5h2M1018 716.5h1M904 717.5h2M1014 717.5h1M906 718.5h1M1012 718.5h2M1008 719.5h1M1006 720.5h2M910 721.5h2M1002 721.5h1M912 722.5h1M1000 722.5h2M996 723.5h1M994 724.5h2M916 725.5h2M989 725.5h2M918 726.5h1M988 726.5h1M922 728.5h3M983 728.5h2M982 729.5h1M928 730.5h2M977 730.5h2M930 731.5h1M976 731.5h1M934 732.5h2M971 732.5h2M936 733.5h1M970 733.5h1M940 734.5h2M964 734.5h3M942 735.5h1M959 735.5h2M946 736.5h3M952 736.5h3M958 736.5h1" stroke="#ff0000" stroke-width="1" fill="none" shape-rendering="crispEdges"/>
<text x="145.8" y="591.4" font-size="10" fill="#000" text-anchor="end" textLength="149.0" lengthAdjust="spacingAndGlyphs" >MACD(12,26,9) -0.000799 0.000356</text>
</g>
<g clip-path="url(#cr)">
<g shape-rendering="crispEdges">
<line x1="-2" y1="786.5" x2="1681" y2="786.5" stroke="#c0c0c0" stroke-width="1" stroke-dasharray="3 3"/>
<line x1="-2" y1="837.5" x2="1681" y2="837.5" stroke="#c0c0c0" stroke-width="1" stroke-dasharray="3 3"/>
<line x1="-2" y1="898.5" x2="1681" y2="898.5" stroke="#c0c0c0" stroke-width="1" stroke-dasharray="3 3"/>
</g>
<path d="M1285 801.5h6M1281 802.5h4M1291 802.5h5M1278 803.5h3M1296 803.5h1M1276 804.5h2M1296 804.5h1M1274 805.5h2M1297 805.5h1M1272 806.5h2M1297 806.5h1M1271 807.5h1M1298 807.5h1M1270 808.5h1M1298 808.5h1M0 809.5h2M1269 809.5h1M1299 809.5h1M2 810.5h2M1267 810.5h2M1299 810.5h1M4 811.5h2M1266 811.5h1M1300 811.5h1M6 812.5h2M1265 812.5h1M1300 812.5h1M8 813.5h2M1264 813.5h1M1301 813.5h1M10 814.5h2M1263 814.5h1M1301 814.5h1M12 815.5h2M1262 815.5h1M1302 815.5h1M14 816.5h3M1262 816.5h1M1302 816.5h1M17 817.5h2M1261 817.5h1M1303 817.5h1M19 818.5h3M1260 818.5h1M1303 818.5h1M22 819.5h2M1259 819.5h1M1304 819.5h1M24 820.5h2M1259 820.5h1M1304 820.5h1M26 821.5h1M1258 821.5h1M1305 821.5h1M27 822.5h2M1257 822.5h1M1305 822.5h1M29 823.5h2M107 823.5h5M223 823.5h2M1256 823.5h1M1306 823.5h1M31 824.5h1M99 824.5h8M112 824.5h1M221 824.5h2M225 824.5h4M1166 824.5h2M1256 824.5h1M1307 824.5h1M31 825.5h1M91 825.5h8M112 825.5h1M219 825.5h2M229 825.5h3M246 825.5h2M1163 825.5h3M1168 825.5h1M1255 825.5h1M1307 825.5h1M32 826.5h1M87 826.5h4M113 826.5h1M218 826.5h1M232 826.5h2M244 826.5h2M248 826.5h2M310 826.5h2M1161 826.5h2M1168 826.5h1M1254 826.5h1M1308 826.5h1M32 827.5h1M86 827.5h1M114 827.5h1M216 827.5h2M234 827.5h2M242 827.5h2M250 827.5h2M308 827.5h2M312 827.5h2M1159 827.5h2M1169 827.5h1M1254 827.5h1M1309 827.5h1M1318 827.5h2M33 828.5h1M85 828.5h1M114 828.5h1M215 828.5h1M236 828.5h2M240 828.5h2M252 828.5h2M306 828.5h2M314 828.5h2M1157 828.5h2M1169 828.5h1M1253 828.5h1M1309 828.5h1M1316 828.5h2M1320 828.5h1M33 829.5h1M83 829.5h2M115 829.5h1M213 829.5h2M238 829.5h2M254 829.5h10M304 829.5h2M316 829.5h2M1156 829.5h1M1170 829.5h1M1253 829.5h1M1310 829.5h1M1314 829.5h2M1321 829.5h2M1334 829.5h2M34 830.5h1M82 830.5h1M116 830.5h1M211 830.5h2M264 830.5h1M303 830.5h1M318 830.5h2M1155 830.5h1M1170 830.5h1M1252 830.5h1M1310 830.5h1M1312 830.5h2M1323 830.5h1M1332 830.5h2M1336 830.5h1M34 831.5h1M81 831.5h1M116 831.5h1M210 831.5h1M264 831.5h1M302 831.5h1M320 831.5h2M342 831.5h2M365 831.5h4M1153 831.5h2M1171 831.5h1M1251 831.5h1M1311 831.5h1M1324 831.5h1M1330 831.5h2M1337 831.5h2M35 832.5h1M80 832.5h1M117 832.5h1M126 832.5h2M208 832.5h2M265 832.5h1M302 832.5h1M322 832.5h1M339 832.5h3M344 832.5h1M361 832.5h4M369 832.5h4M1152 832.5h1M1172 832.5h1M1251 832.5h1M1325 832.5h2M1328 832.5h2M1339 832.5h1M35 833.5h1M79 833.5h1M118 833.5h1M123 833.5h3M128 833.5h1M206 833.5h2M265 833.5h1M301 833.5h1M323 833.5h2M337 833.5h2M345 833.5h1M359 833.5h2M373 833.5h6M422 833.5h3M1150 833.5h2M1172 833.5h1M1250 833.5h1M1327 833.5h1M1340 833.5h1M35 834.5h1M78 834.5h1M118 834.5h1M121 834.5h2M129 834.5h1M175 834.5h2M203 834.5h3M266 834.5h1M301 834.5h1M325 834.5h2M331 834.5h6M346 834.5h1M357 834.5h2M379 834.5h14M420 834.5h2M425 834.5h2M1147 834.5h3M1173 834.5h1M1249 834.5h1M1341 834.5h2M36 835.5h1M77 835.5h1M119 835.5h2M130 835.5h1M173 835.5h2M177 835.5h2M201 835.5h2M266 835.5h1M300 835.5h1M327 835.5h4M347 835.5h2M355 835.5h2M393 835.5h4M418 835.5h2M427 835.5h3M435 835.5h5M1145 835.5h2M1173 835.5h1M1249 835.5h1M1343 835.5h1M36 836.5h1M75 836.5h2M131 836.5h2M172 836.5h1M179 836.5h3M187 836.5h14M267 836.5h1M300 836.5h1M349 836.5h1M354 836.5h1M397 836.5h3M416 836.5h2M430 836.5h5M440 836.5h1M1143 836.5h2M1174 836.5h1M1248 836.5h1M1344 836.5h1M37 837.5h1M74 837.5h1M133 837.5h1M171 837.5h1M182 837.5h5M268 837.5h1M299 837.5h1M350 837.5h1M352 837.5h2M400 837.5h1M415 837.5h1M440 837.5h1M1141 837.5h2M1174 837.5h1M1248 837.5h1M1345 837.5h1M1359 837.5h4M37 838.5h1M73 838.5h1M134 838.5h1M147 838.5h5M169 838.5h2M268 838.5h1M298 838.5h1M351 838.5h1M400 838.5h1M414 838.5h1M441 838.5h1M1140 838.5h1M1175 838.5h1M1246 838.5h2M1346 838.5h1M1357 838.5h2M1363 838.5h13M38 839.5h1M72 839.5h1M135 839.5h12M152 839.5h1M168 839.5h1M269 839.5h1M298 839.5h1M401 839.5h1M414 839.5h1M441 839.5h1M1126 839.5h3M1139 839.5h1M1176 839.5h2M1244 839.5h2M1347 839.5h1M1356 839.5h1M1375 839.5h1M1407 839.5h2M38 840.5h1M69 840.5h3M153 840.5h1M167 840.5h1M269 840.5h1M297 840.5h1M401 840.5h1M413 840.5h1M442 840.5h1M798 840.5h2M1124 840.5h2M1129 840.5h2M1137 840.5h2M1178 840.5h1M1223 840.5h1M1242 840.5h2M1348 840.5h1M1355 840.5h1M1376 840.5h1M1407 840.5h1M1409 840.5h2M39 841.5h1M65 841.5h4M154 841.5h1M166 841.5h1M270 841.5h1M297 841.5h1M402 841.5h1M413 841.5h1M442 841.5h1M796 841.5h2M799 841.5h1M1122 841.5h2M1131 841.5h3M1136 841.5h1M1179 841.5h2M1221 841.5h2M1224 841.5h1M1240 841.5h2M1349 841.5h1M1353 841.5h2M1376 841.5h1M1406 841.5h1M1411 841.5h3M39 842.5h1M63 842.5h2M155 842.5h1M165 842.5h1M270 842.5h1M296 842.5h1M402 842.5h1M412 842.5h1M443 842.5h1M794 842.5h2M800 842.5h1M1031 842.5h1M1120 842.5h2M1134 842.5h2M1181 842.5h2M1220 842.5h1M1225 842.5h1M1239 842.5h1M1350 842.5h1M1352 842.5h1M1377 842.5h1M1406 842.5h1M1414 842.5h2M40 843.5h1M62 843.5h1M155 843.5h1M163 843.5h2M271 843.5h1M296 843.5h1M403 843.5h1M412 843.5h1M444 843.5h1M455 843.5h1M679 843.5h1M792 843.5h2M800 843.5h1M1031 843.5h2M1119 843.5h1M1183 843.5h4M1219 843.5h1M1226 843.5h1M1237 843.5h2M1351 843.5h1M1377 843.5h1M1405 843.5h1M41 844.5h1M62 844.5h1M156 844.5h1M162 844.5h1M272 844.5h1M295 844.5h1M403 844.5h1M411 844.5h1M444 844.5h1M453 844.5h2M456 844.5h1M678 844.5h1M680 844.5h1M791 844.5h1M801 844.5h1M1031 844.5h2M1047 844.5h4M1118 844.5h1M1187 844.5h6M1217 844.5h2M1227 844.5h2M1235 844.5h2M1378 844.5h1M1405 844.5h1M42 845.5h1M61 845.5h1M157 845.5h1M161 845.5h1M273 845.5h1M294 845.5h1M404 845.5h1M411 845.5h1M445 845.5h1M452 845.5h1M457 845.5h1M677 845.5h1M681 845.5h1M791 845.5h1M801 845.5h1M1030 845.5h1M1033 845.5h1M1046 845.5h1M1051 845.5h13M1118 845.5h1M1193 845.5h4M1216 845.5h1M1229 845.5h1M1234 845.5h1M1378 845.5h1M1404 845.5h1M43 846.5h1M60 846.5h1M158 846.5h1M160 846.5h1M274 846.5h1M293 846.5h1M404 846.5h1M410 846.5h1M445 846.5h1M451 846.5h1M458 846.5h1M676 846.5h1M682 846.5h1M790 846.5h1M802 846.5h1M1030 846.5h1M1033 846.5h1M1046 846.5h1M1064 846.5h1M1117 846.5h1M1197 846.5h6M1211 846.5h5M1230 846.5h1M1232 846.5h2M1379 846.5h1M1404 846.5h1M44 847.5h1M59 847.5h1M159 847.5h1M275 847.5h1M291 847.5h2M405 847.5h1M410 847.5h1M446 847.5h1M449 847.5h2M459 847.5h1M519 847.5h4M675 847.5h1M683 847.5h1M790 847.5h1M802 847.5h1M1030 847.5h1M1034 847.5h1M1045 847.5h1M1065 847.5h2M1117 847.5h1M1203 847.5h8M1231 847.5h1M1379 847.5h1M1403 847.5h1M45 848.5h1M59 848.5h1M275 848.5h1M290 848.5h1M405 848.5h1M409 848.5h1M446 848.5h1M448 848.5h1M460 848.5h1M519 848.5h1M523 848.5h5M619 848.5h5M675 848.5h1M684 848.5h1M789 848.5h1M803 848.5h1M1030 848.5h1M1035 848.5h1M1044 848.5h1M1067 848.5h1M1086 848.5h2M1116 848.5h1M1380 848.5h1M1403 848.5h1M46 849.5h1M58 849.5h1M276 849.5h1M289 849.5h1M406 849.5h1M409 849.5h1M447 849.5h1M461 849.5h1M518 849.5h1M528 849.5h1M567 849.5h1M607 849.5h12M624 849.5h1M674 849.5h1M685 849.5h1M789 849.5h1M803 849.5h1M1029 849.5h1M1035 849.5h1M1043 849.5h1M1068 849.5h1M1084 849.5h2M1088 849.5h1M1116 849.5h1M1380 849.5h1M1402 849.5h1M47 850.5h2M57 850.5h1M277 850.5h1M288 850.5h1M406 850.5h1M408 850.5h1M462 850.5h1M518 850.5h1M529 850.5h1M567 850.5h3M606 850.5h1M625 850.5h1M673 850.5h1M686 850.5h1M788 850.5h1M804 850.5h1M975 850.5h1M1029 850.5h1M1036 850.5h1M1043 850.5h1M1069 850.5h2M1082 850.5h2M1089 850.5h1M1115 850.5h1M1381 850.5h1M1402 850.5h1M49 851.5h2M56 851.5h1M278 851.5h1M283 851.5h5M407 851.5h2M463 851.5h1M517 851.5h1M530 851.5h1M566 851.5h1M570 851.5h1M605 851.5h1M626 851.5h1M651 851.5h6M672 851.5h1M687 851.5h2M788 851.5h1M804 851.5h1M973 851.5h2M976 851.5h1M1029 851.5h1M1037 851.5h1M1042 851.5h1M1071 851.5h4M1080 851.5h2M1090 851.5h1M1114 851.5h1M1381 851.5h1M1401 851.5h1M51 852.5h3M56 852.5h1M279 852.5h4M407 852.5h1M464 852.5h2M517 852.5h1M531 852.5h1M566 852.5h1M571 852.5h2M591 852.5h1M603 852.5h2M627 852.5h1M647 852.5h4M657 852.5h4M667 852.5h5M689 852.5h2M787 852.5h1M805 852.5h1M971 852.5h2M977 852.5h1M1029 852.5h1M1037 852.5h1M1041 852.5h1M1075 852.5h5M1091 852.5h1M1114 852.5h1M1382 852.5h1M1401 852.5h1M54 853.5h2M466 853.5h2M517 853.5h1M532 853.5h1M566 853.5h1M573 853.5h2M589 853.5h2M592 853.5h2M602 853.5h1M627 853.5h1M646 853.5h1M661 853.5h6M691 853.5h3M787 853.5h1M805 853.5h1M970 853.5h1M977 853.5h1M1028 853.5h1M1038 853.5h1M1040 853.5h1M1092 853.5h1M1113 853.5h1M1382 853.5h1M1400 853.5h1M468 854.5h2M493 854.5h6M516 854.5h1M533 854.5h1M565 854.5h1M575 854.5h2M587 854.5h2M594 854.5h2M601 854.5h1M628 854.5h1M645 854.5h1M694 854.5h5M775 854.5h1M786 854.5h1M806 854.5h1M968 854.5h2M978 854.5h1M1028 854.5h1M1038 854.5h1M1040 854.5h1M1093 854.5h1M1113 854.5h1M1383 854.5h1M1387 854.5h8M1400 854.5h1M470 855.5h3M489 855.5h4M499 855.5h5M516 855.5h1M534 855.5h1M565 855.5h1M577 855.5h2M586 855.5h1M596 855.5h2M600 855.5h1M629 855.5h1M644 855.5h1M699 855.5h8M773 855.5h2M776 855.5h1M786 855.5h1M806 855.5h1M821 855.5h3M967 855.5h1M979 855.5h1M1028 855.5h1M1039 855.5h1M1094 855.5h1M1112 855.5h1M1383 855.5h4M1395 855.5h5M473 856.5h2M485 856.5h4M504 856.5h1M515 856.5h1M535 856.5h1M565 856.5h1M579 856.5h3M584 856.5h2M598 856.5h2M630 856.5h1M643 856.5h1M707 856.5h13M771 856.5h2M777 856.5h2M785 856.5h1M807 856.5h1M817 856.5h4M824 856.5h1M966 856.5h1M980 856.5h1M1028 856.5h1M1095 856.5h2M1112 856.5h1M475 857.5h3M481 857.5h4M504 857.5h1M515 857.5h1M536 857.5h1M565 857.5h1M582 857.5h2M631 857.5h1M643 857.5h1M720 857.5h1M758 857.5h3M770 857.5h1M779 857.5h1M785 857.5h1M807 857.5h10M824 857.5h1M965 857.5h1M981 857.5h1M1027 857.5h1M1097 857.5h4M1107 857.5h5M478 858.5h3M505 858.5h1M515 858.5h1M536 858.5h1M564 858.5h1M632 858.5h2M642 858.5h1M721 858.5h1M755 858.5h3M761 858.5h4M768 858.5h2M780 858.5h1M784 858.5h1M825 858.5h1M964 858.5h1M981 858.5h1M1027 858.5h1M1101 858.5h6M506 859.5h1M514 859.5h1M537 859.5h1M564 859.5h1M634 859.5h2M641 859.5h1M722 859.5h1M753 859.5h2M765 859.5h3M781 859.5h2M784 859.5h1M826 859.5h1M963 859.5h1M982 859.5h1M1027 859.5h1M506 860.5h1M514 860.5h1M538 860.5h1M564 860.5h1M636 860.5h2M640 860.5h1M723 860.5h2M734 860.5h2M751 860.5h2M783 860.5h1M826 860.5h1M962 860.5h1M983 860.5h2M1027 860.5h1M507 861.5h1M513 861.5h1M539 861.5h1M563 861.5h1M638 861.5h2M725 861.5h1M731 861.5h3M736 861.5h1M750 861.5h1M827 861.5h1M961 861.5h1M985 861.5h2M1026 861.5h1M508 862.5h1M513 862.5h1M539 862.5h1M563 862.5h1M726 862.5h1M729 862.5h2M737 862.5h1M749 862.5h1M828 862.5h1M951 862.5h4M960 862.5h1M987 862.5h3M1026 862.5h1M508 863.5h1M513 863.5h1M540 863.5h1M563 863.5h1M727 863.5h2M738 863.5h1M748 863.5h1M828 863.5h1M950 863.5h1M955 863.5h5M990 863.5h5M1026 863.5h1M509 864.5h1M512 864.5h1M541 864.5h1M562 864.5h1M739 864.5h1M747 864.5h1M829 864.5h1M919 864.5h1M949 864.5h1M995 864.5h8M1026 864.5h1M510 865.5h1M512 865.5h1M542 865.5h1M562 865.5h1M739 865.5h1M747 865.5h1M830 865.5h1M918 865.5h1M920 865.5h1M948 865.5h1M1003 865.5h6M1025 865.5h1M510 866.5h2M542 866.5h1M562 866.5h1M740 866.5h1M746 866.5h1M830 866.5h1M918 866.5h1M921 866.5h1M947 866.5h1M1009 866.5h2M1025 866.5h1M511 867.5h1M543 867.5h1M561 867.5h1M741 867.5h1M745 867.5h1M831 867.5h1M917 867.5h1M922 867.5h1M947 867.5h1M1011 867.5h3M1025 867.5h1M544 868.5h1M561 868.5h1M742 868.5h1M744 868.5h1M832 868.5h2M917 868.5h1M923 868.5h2M946 868.5h1M1014 868.5h2M1025 868.5h1M545 869.5h1M561 869.5h1M743 869.5h1M834 869.5h1M916 869.5h1M925 869.5h1M945 869.5h1M1016 869.5h1M1024 869.5h1M546 870.5h1M561 870.5h1M835 870.5h2M915 870.5h1M926 870.5h1M944 870.5h1M1017 870.5h2M1024 870.5h1M547 871.5h1M560 871.5h1M837 871.5h2M915 871.5h1M927 871.5h1M943 871.5h1M1019 871.5h1M1024 871.5h1M547 872.5h1M560 872.5h1M839 872.5h1M914 872.5h1M928 872.5h1M941 872.5h2M1020 872.5h1M1024 872.5h1M548 873.5h1M560 873.5h1M840 873.5h1M913 873.5h1M929 873.5h2M940 873.5h1M1021 873.5h3M549 874.5h1M559 874.5h1M841 874.5h2M913 874.5h1M931 874.5h1M939 874.5h1M1023 874.5h1M550 875.5h1M555 875.5h5M843 875.5h1M912 875.5h1M932 875.5h1M937 875.5h2M551 876.5h4M844 876.5h1M912 876.5h1M933 876.5h2M936 876.5h1M845 877.5h2M903 877.5h9M935 877.5h1M847 878.5h1M903 878.5h1M848 879.5h2M902 879.5h1M850 880.5h2M902 880.5h1M852 881.5h2M901 881.5h1M854 882.5h5M901 882.5h1M859 883.5h6M900 883.5h1M865 884.5h4M900 884.5h1M869 885.5h4M899 885.5h1M873 886.5h4M899 886.5h1M877 887.5h3M899 887.5h1M880 888.5h2M898 888.5h1M882 889.5h1M898 889.5h1M883 890.5h2M897 890.5h1M885 891.5h2M897 891.5h1M887 892.5h2M896 892.5h1M889 893.5h2M896 893.5h1M891 894.5h3M895 894.5h1M894 895.5h2" stroke="#1e90ff" stroke-width="1" fill="none" shape-rendering="crispEdges"/>
<line x1="1285" y1="800" x2="1398" y2="856.5" stroke="#ff0000" stroke-width="3.6"/>
<line x1="1401.5" y1="858" x2="1428" y2="847.8" stroke="#ff0000" stroke-width="3.6"/>
<polygon fill="#ff0000" points="1403,859.6 1391.5,858.6 1396,849.6"/>
<polygon fill="#ff0000" points="1434.2,845.4 1422,845.2 1425.5,854.8"/>
<text x="62.8" y="763.4" font-size="10" fill="#000" text-anchor="end" textLength="67.5" lengthAdjust="spacingAndGlyphs" >RSI(14) 46.7122</text>
</g>
<g shape-rendering="crispEdges">
<rect x="55" y="925" width="1" height="3" fill="#000" />
<rect x="119" y="925" width="1" height="3" fill="#000" />
<rect x="183" y="925" width="1" height="3" fill="#000" />
<rect x="247" y="925" width="1" height="3" fill="#000" />
<rect x="311" y="925" width="1" height="3" fill="#000" />
<rect x="375" y="925" width="1" height="3" fill="#000" />
<rect x="439" y="925" width="1" height="3" fill="#000" />
<rect x="503" y="925" width="1" height="3" fill="#000" />
<rect x="567" y="925" width="1" height="3" fill="#000" />
<rect x="631" y="925" width="1" height="3" fill="#000" />
<rect x="695" y="925" width="1" height="3" fill="#000" />
<rect x="759" y="925" width="1" height="3" fill="#000" />
<rect x="823" y="925" width="1" height="3" fill="#000" />
<rect x="887" y="925" width="1" height="3" fill="#000" />
<rect x="951" y="925" width="1" height="3" fill="#000" />
<rect x="1015" y="925" width="1" height="3" fill="#000" />
<rect x="1079" y="925" width="1" height="3" fill="#000" />
<rect x="1143" y="925" width="1" height="3" fill="#000" />
<rect x="1207" y="925" width="1" height="3" fill="#000" />
<rect x="1271" y="925" width="1" height="3" fill="#000" />
<rect x="1335" y="925" width="1" height="3" fill="#000" />
<rect x="1399" y="925" width="1" height="3" fill="#000" />
</g>
<g clip-path="url(#cl)">
<text x="2.6" y="937.2" font-size="10" fill="#000" textLength="39.4" lengthAdjust="spacingAndGlyphs" >Mar 2020</text>
<text transform="translate(53.8,937.2) scale(0.95,1)" font-size="10" fill="#000" >29 Mar 2020</text>
<text transform="translate(117.8,937.2) scale(0.95,1)" font-size="10" fill="#000" >7 Apr 2020</text>
<text transform="translate(181.8,937.2) scale(0.95,1)" font-size="10" fill="#000" >17 Apr 2020</text>
<text transform="translate(245.8,937.2) scale(0.95,1)" font-size="10" fill="#000" >27 Apr 2020</text>
<text transform="translate(309.8,937.2) scale(0.95,1)" font-size="10" fill="#000" >6 May 2020</text>
<text transform="translate(373.8,937.2) scale(0.95,1)" font-size="10" fill="#000" >15 May 2020</text>
<text transform="translate(437.8,937.2) scale(0.95,1)" font-size="10" fill="#000" >25 May 2020</text>
<text transform="translate(501.8,937.2) scale(0.95,1)" font-size="10" fill="#000" >3 Jun 2020</text>
<text transform="translate(565.8,937.2) scale(0.95,1)" font-size="10" fill="#000" >12 Jun 2020</text>
<text transform="translate(629.8,937.2) scale(0.95,1)" font-size="10" fill="#000" >22 Jun 2020</text>
<text transform="translate(693.8,937.2) scale(0.95,1)" font-size="10" fill="#000" >1 Jul 2020</text>
<text transform="translate(757.8,937.2) scale(0.95,1)" font-size="10" fill="#000" >10 Jul 2020</text>
<text transform="translate(821.8,937.2) scale(0.95,1)" font-size="10" fill="#000" >20 Jul 2020</text>
<text transform="translate(885.8,937.2) scale(0.95,1)" font-size="10" fill="#000" >29 Jul 2020</text>
<text transform="translate(949.8,937.2) scale(0.95,1)" font-size="10" fill="#000" >7 Aug 2020</text>
<text transform="translate(1013.8,937.2) scale(0.95,1)" font-size="10" fill="#000" >17 Aug 2020</text>
<text transform="translate(1077.8,937.2) scale(0.95,1)" font-size="10" fill="#000" >26 Aug 2020</text>
<text transform="translate(1141.8,937.2) scale(0.95,1)" font-size="10" fill="#000" >4 Sep 2020</text>
<text transform="translate(1205.8,937.2) scale(0.95,1)" font-size="10" fill="#000" >14 Sep 2020</text>
<text transform="translate(1269.8,937.2) scale(0.95,1)" font-size="10" fill="#000" >23 Sep 2020</text>
<text transform="translate(1333.8,937.2) scale(0.95,1)" font-size="10" fill="#000" >2 Oct 2020</text>
<text transform="translate(1397.8,937.2) scale(0.95,1)" font-size="10" fill="#000" >12 Oct 2020</text>
</g>
</svg></body></html>
